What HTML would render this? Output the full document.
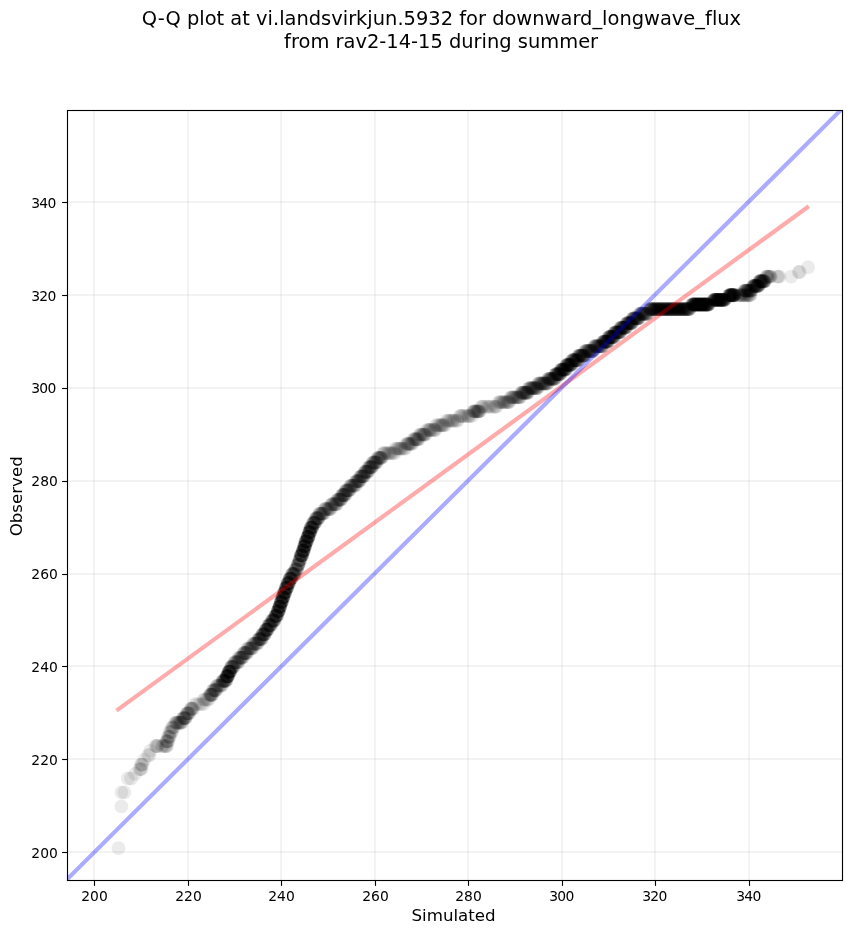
<!DOCTYPE html><html><head><meta charset="utf-8"><title>Q-Q plot</title><style>html,body{margin:0;padding:0;background:#fff}svg{display:block}text{font-family:"DejaVu Sans","Liberation Sans",sans-serif;fill:#000;font-variant-ligatures:none;font-feature-settings:"liga" 0,"clig" 0}</style></head><body>
<svg width="851" height="934" viewBox="0 0 851 934">
<rect width="851" height="934" fill="#fff"/>
<defs><clipPath id="ax"><rect x="67.5" y="110.5" width="775.0" height="770.0"/></clipPath></defs>
<g fill="#b0b0b0" fill-opacity="0.15" clip-path="url(#ax)" shape-rendering="crispEdges">
<rect x="93" y="110.5" width="2" height="770.0"/>
<rect x="67.5" y="851" width="775.0" height="2"/>
<rect x="187" y="110.5" width="2" height="770.0"/>
<rect x="67.5" y="758" width="775.0" height="2"/>
<rect x="280" y="110.5" width="2" height="770.0"/>
<rect x="67.5" y="665" width="775.0" height="2"/>
<rect x="374" y="110.5" width="2" height="770.0"/>
<rect x="67.5" y="573" width="775.0" height="2"/>
<rect x="467" y="110.5" width="2" height="770.0"/>
<rect x="67.5" y="480" width="775.0" height="2"/>
<rect x="561" y="110.5" width="2" height="770.0"/>
<rect x="67.5" y="387" width="775.0" height="2"/>
<rect x="654" y="110.5" width="2" height="770.0"/>
<rect x="67.5" y="294" width="775.0" height="2"/>
<rect x="748" y="110.5" width="2" height="770.0"/>
<rect x="67.5" y="201" width="775.0" height="2"/>
</g>
<g fill="#000" fill-opacity="0.08" clip-path="url(#ax)">
<circle cx="118.5" cy="848.2" r="6.94"/>
<circle cx="121.4" cy="806.4" r="6.94"/>
<circle cx="121.5" cy="792.4" r="6.94"/>
<circle cx="124.4" cy="792.4" r="6.94"/>
<circle cx="127.9" cy="778.5" r="6.94"/>
<circle cx="131.1" cy="778.5" r="6.94"/>
<circle cx="135.1" cy="773.8" r="6.94"/>
<circle cx="139.5" cy="769.2" r="6.94"/>
<circle cx="140.5" cy="769.2" r="6.94"/>
<circle cx="141.5" cy="769.2" r="6.94"/>
<circle cx="140.8" cy="764.6" r="6.94"/>
<circle cx="141.8" cy="764.6" r="6.94"/>
<circle cx="142.5" cy="764.6" r="6.94"/>
<circle cx="144.2" cy="759.9" r="6.94"/>
<circle cx="148.0" cy="755.3" r="6.94"/>
<circle cx="149.4" cy="755.3" r="6.94"/>
<circle cx="150.4" cy="750.6" r="6.94"/>
<circle cx="155.5" cy="746.0" r="6.94"/>
<circle cx="156.5" cy="746.0" r="6.94"/>
<circle cx="157.3" cy="746.0" r="6.94"/>
<circle cx="158.0" cy="746.0" r="6.94"/>
<circle cx="162.0" cy="746.0" r="6.94"/>
<circle cx="163.0" cy="746.0" r="6.94"/>
<circle cx="164.5" cy="746.0" r="6.94"/>
<circle cx="165.6" cy="746.0" r="6.94"/>
<circle cx="166.5" cy="746.0" r="6.94"/>
<circle cx="167.0" cy="746.0" r="6.94"/>
<circle cx="166.0" cy="741.3" r="6.94"/>
<circle cx="166.8" cy="741.3" r="6.94"/>
<circle cx="167.2" cy="741.3" r="6.94"/>
<circle cx="167.6" cy="741.3" r="6.94"/>
<circle cx="168.4" cy="741.3" r="6.94"/>
<circle cx="168.0" cy="736.7" r="6.94"/>
<circle cx="168.7" cy="736.7" r="6.94"/>
<circle cx="169.4" cy="736.7" r="6.94"/>
<circle cx="170.0" cy="736.7" r="6.94"/>
<circle cx="169.5" cy="732.0" r="6.94"/>
<circle cx="170.5" cy="732.0" r="6.94"/>
<circle cx="171.3" cy="732.0" r="6.94"/>
<circle cx="172.0" cy="732.0" r="6.94"/>
<circle cx="171.8" cy="727.4" r="6.94"/>
<circle cx="172.6" cy="727.4" r="6.94"/>
<circle cx="173.4" cy="727.4" r="6.94"/>
<circle cx="174.2" cy="727.4" r="6.94"/>
<circle cx="195.0" cy="704.1" r="6.94"/>
<circle cx="197.0" cy="704.1" r="6.94"/>
<circle cx="199.5" cy="704.1" r="6.94"/>
<circle cx="201.5" cy="704.1" r="6.94"/>
<circle cx="203.5" cy="704.1" r="6.94"/>
<circle cx="203.9" cy="699.5" r="6.94"/>
<circle cx="204.9" cy="699.5" r="6.94"/>
<circle cx="206.7" cy="699.5" r="6.94"/>
<circle cx="207.2" cy="699.5" r="6.94"/>
<circle cx="209.0" cy="699.5" r="6.94"/>
<circle cx="209.7" cy="694.8" r="6.94"/>
<circle cx="209.9" cy="694.8" r="6.94"/>
<circle cx="210.5" cy="694.8" r="6.94"/>
<circle cx="210.6" cy="694.8" r="6.94"/>
<circle cx="211.2" cy="694.8" r="6.94"/>
<circle cx="211.4" cy="694.8" r="6.94"/>
<circle cx="211.7" cy="694.8" r="6.94"/>
<circle cx="212.2" cy="694.8" r="6.94"/>
<circle cx="212.7" cy="694.8" r="6.94"/>
<circle cx="212.9" cy="690.2" r="6.94"/>
<circle cx="213.3" cy="690.2" r="6.94"/>
<circle cx="213.9" cy="690.2" r="6.94"/>
<circle cx="214.5" cy="690.2" r="6.94"/>
<circle cx="214.7" cy="690.2" r="6.94"/>
<circle cx="215.1" cy="690.2" r="6.94"/>
<circle cx="215.7" cy="690.2" r="6.94"/>
<circle cx="215.8" cy="690.2" r="6.94"/>
<circle cx="216.5" cy="690.2" r="6.94"/>
<circle cx="216.8" cy="685.6" r="6.94"/>
<circle cx="217.3" cy="685.6" r="6.94"/>
<circle cx="217.9" cy="685.6" r="6.94"/>
<circle cx="218.7" cy="685.6" r="6.94"/>
<circle cx="219.6" cy="685.6" r="6.94"/>
<circle cx="219.9" cy="685.6" r="6.94"/>
<circle cx="220.7" cy="685.6" r="6.94"/>
<circle cx="221.4" cy="685.6" r="6.94"/>
<circle cx="221.9" cy="685.6" r="6.94"/>
<circle cx="222.4" cy="680.9" r="6.94"/>
<circle cx="222.6" cy="680.9" r="6.94"/>
<circle cx="222.9" cy="680.9" r="6.94"/>
<circle cx="223.2" cy="680.9" r="6.94"/>
<circle cx="223.6" cy="680.9" r="6.94"/>
<circle cx="223.9" cy="680.9" r="6.94"/>
<circle cx="224.1" cy="680.9" r="6.94"/>
<circle cx="224.5" cy="680.9" r="6.94"/>
<circle cx="224.8" cy="680.9" r="6.94"/>
<circle cx="225.0" cy="680.9" r="6.94"/>
<circle cx="225.4" cy="680.9" r="6.94"/>
<circle cx="225.7" cy="680.9" r="6.94"/>
<circle cx="225.9" cy="680.9" r="6.94"/>
<circle cx="226.3" cy="680.9" r="6.94"/>
<circle cx="226.5" cy="676.3" r="6.94"/>
<circle cx="226.6" cy="676.3" r="6.94"/>
<circle cx="226.8" cy="676.3" r="6.94"/>
<circle cx="226.8" cy="676.3" r="6.94"/>
<circle cx="227.1" cy="676.3" r="6.94"/>
<circle cx="227.1" cy="676.3" r="6.94"/>
<circle cx="227.2" cy="676.3" r="6.94"/>
<circle cx="227.4" cy="676.3" r="6.94"/>
<circle cx="227.5" cy="676.3" r="6.94"/>
<circle cx="227.7" cy="676.3" r="6.94"/>
<circle cx="227.7" cy="676.3" r="6.94"/>
<circle cx="227.9" cy="676.3" r="6.94"/>
<circle cx="228.1" cy="676.3" r="6.94"/>
<circle cx="228.2" cy="676.3" r="6.94"/>
<circle cx="228.4" cy="671.6" r="6.94"/>
<circle cx="228.5" cy="671.6" r="6.94"/>
<circle cx="228.7" cy="671.6" r="6.94"/>
<circle cx="228.9" cy="671.6" r="6.94"/>
<circle cx="229.0" cy="671.6" r="6.94"/>
<circle cx="229.2" cy="671.6" r="6.94"/>
<circle cx="229.4" cy="671.6" r="6.94"/>
<circle cx="229.6" cy="671.6" r="6.94"/>
<circle cx="229.7" cy="671.6" r="6.94"/>
<circle cx="229.9" cy="671.6" r="6.94"/>
<circle cx="229.9" cy="671.6" r="6.94"/>
<circle cx="230.2" cy="671.6" r="6.94"/>
<circle cx="230.4" cy="671.6" r="6.94"/>
<circle cx="230.6" cy="671.6" r="6.94"/>
<circle cx="230.9" cy="667.0" r="6.94"/>
<circle cx="231.0" cy="667.0" r="6.94"/>
<circle cx="231.4" cy="667.0" r="6.94"/>
<circle cx="231.8" cy="667.0" r="6.94"/>
<circle cx="232.0" cy="667.0" r="6.94"/>
<circle cx="232.5" cy="667.0" r="6.94"/>
<circle cx="232.7" cy="667.0" r="6.94"/>
<circle cx="233.0" cy="667.0" r="6.94"/>
<circle cx="233.3" cy="667.0" r="6.94"/>
<circle cx="233.9" cy="667.0" r="6.94"/>
<circle cx="234.1" cy="662.3" r="6.94"/>
<circle cx="234.6" cy="662.3" r="6.94"/>
<circle cx="235.1" cy="662.3" r="6.94"/>
<circle cx="235.8" cy="662.3" r="6.94"/>
<circle cx="235.9" cy="662.3" r="6.94"/>
<circle cx="236.6" cy="662.3" r="6.94"/>
<circle cx="237.1" cy="662.3" r="6.94"/>
<circle cx="237.7" cy="662.3" r="6.94"/>
<circle cx="238.1" cy="662.3" r="6.94"/>
<circle cx="238.6" cy="662.3" r="6.94"/>
<circle cx="238.8" cy="657.7" r="6.94"/>
<circle cx="239.4" cy="657.7" r="6.94"/>
<circle cx="239.8" cy="657.7" r="6.94"/>
<circle cx="240.5" cy="657.7" r="6.94"/>
<circle cx="241.0" cy="657.7" r="6.94"/>
<circle cx="241.1" cy="657.7" r="6.94"/>
<circle cx="241.5" cy="657.7" r="6.94"/>
<circle cx="242.0" cy="657.7" r="6.94"/>
<circle cx="242.5" cy="657.7" r="6.94"/>
<circle cx="243.1" cy="657.7" r="6.94"/>
<circle cx="243.5" cy="653.0" r="6.94"/>
<circle cx="243.8" cy="653.0" r="6.94"/>
<circle cx="244.1" cy="653.0" r="6.94"/>
<circle cx="244.7" cy="653.0" r="6.94"/>
<circle cx="245.1" cy="653.0" r="6.94"/>
<circle cx="245.6" cy="653.0" r="6.94"/>
<circle cx="246.1" cy="653.0" r="6.94"/>
<circle cx="246.4" cy="653.0" r="6.94"/>
<circle cx="246.7" cy="653.0" r="6.94"/>
<circle cx="247.2" cy="653.0" r="6.94"/>
<circle cx="247.7" cy="648.4" r="6.94"/>
<circle cx="247.9" cy="648.4" r="6.94"/>
<circle cx="249.0" cy="648.4" r="6.94"/>
<circle cx="249.4" cy="648.4" r="6.94"/>
<circle cx="250.1" cy="648.4" r="6.94"/>
<circle cx="250.6" cy="648.4" r="6.94"/>
<circle cx="250.9" cy="648.4" r="6.94"/>
<circle cx="251.5" cy="648.4" r="6.94"/>
<circle cx="251.8" cy="648.4" r="6.94"/>
<circle cx="252.7" cy="648.4" r="6.94"/>
<circle cx="252.9" cy="643.7" r="6.94"/>
<circle cx="253.5" cy="643.7" r="6.94"/>
<circle cx="254.1" cy="643.7" r="6.94"/>
<circle cx="254.6" cy="643.7" r="6.94"/>
<circle cx="255.2" cy="643.7" r="6.94"/>
<circle cx="255.6" cy="643.7" r="6.94"/>
<circle cx="256.1" cy="643.7" r="6.94"/>
<circle cx="256.7" cy="643.7" r="6.94"/>
<circle cx="257.2" cy="643.7" r="6.94"/>
<circle cx="257.9" cy="643.7" r="6.94"/>
<circle cx="258.2" cy="639.1" r="6.94"/>
<circle cx="258.8" cy="639.1" r="6.94"/>
<circle cx="259.0" cy="639.1" r="6.94"/>
<circle cx="259.2" cy="639.1" r="6.94"/>
<circle cx="259.5" cy="639.1" r="6.94"/>
<circle cx="259.9" cy="639.1" r="6.94"/>
<circle cx="260.2" cy="639.1" r="6.94"/>
<circle cx="260.4" cy="639.1" r="6.94"/>
<circle cx="261.0" cy="639.1" r="6.94"/>
<circle cx="261.3" cy="639.1" r="6.94"/>
<circle cx="261.5" cy="639.1" r="6.94"/>
<circle cx="261.8" cy="639.1" r="6.94"/>
<circle cx="262.0" cy="634.4" r="6.94"/>
<circle cx="262.3" cy="634.4" r="6.94"/>
<circle cx="262.6" cy="634.4" r="6.94"/>
<circle cx="262.8" cy="634.4" r="6.94"/>
<circle cx="263.3" cy="634.4" r="6.94"/>
<circle cx="263.4" cy="634.4" r="6.94"/>
<circle cx="263.6" cy="634.4" r="6.94"/>
<circle cx="264.1" cy="634.4" r="6.94"/>
<circle cx="264.3" cy="634.4" r="6.94"/>
<circle cx="264.5" cy="634.4" r="6.94"/>
<circle cx="264.8" cy="634.4" r="6.94"/>
<circle cx="265.0" cy="634.4" r="6.94"/>
<circle cx="265.4" cy="629.8" r="6.94"/>
<circle cx="265.7" cy="629.8" r="6.94"/>
<circle cx="265.9" cy="629.8" r="6.94"/>
<circle cx="266.1" cy="629.8" r="6.94"/>
<circle cx="266.3" cy="629.8" r="6.94"/>
<circle cx="266.5" cy="629.8" r="6.94"/>
<circle cx="266.7" cy="629.8" r="6.94"/>
<circle cx="267.1" cy="629.8" r="6.94"/>
<circle cx="267.3" cy="629.8" r="6.94"/>
<circle cx="267.6" cy="629.8" r="6.94"/>
<circle cx="267.7" cy="629.8" r="6.94"/>
<circle cx="267.9" cy="629.8" r="6.94"/>
<circle cx="268.3" cy="625.1" r="6.94"/>
<circle cx="268.7" cy="625.1" r="6.94"/>
<circle cx="268.9" cy="625.1" r="6.94"/>
<circle cx="269.2" cy="625.1" r="6.94"/>
<circle cx="269.5" cy="625.1" r="6.94"/>
<circle cx="269.8" cy="625.1" r="6.94"/>
<circle cx="269.9" cy="625.1" r="6.94"/>
<circle cx="270.3" cy="625.1" r="6.94"/>
<circle cx="270.5" cy="625.1" r="6.94"/>
<circle cx="270.7" cy="625.1" r="6.94"/>
<circle cx="271.0" cy="625.1" r="6.94"/>
<circle cx="271.4" cy="625.1" r="6.94"/>
<circle cx="271.7" cy="620.5" r="6.94"/>
<circle cx="272.1" cy="620.5" r="6.94"/>
<circle cx="272.4" cy="620.5" r="6.94"/>
<circle cx="272.5" cy="620.5" r="6.94"/>
<circle cx="273.0" cy="620.5" r="6.94"/>
<circle cx="273.2" cy="620.5" r="6.94"/>
<circle cx="273.5" cy="620.5" r="6.94"/>
<circle cx="273.6" cy="620.5" r="6.94"/>
<circle cx="273.9" cy="620.5" r="6.94"/>
<circle cx="274.1" cy="620.5" r="6.94"/>
<circle cx="274.4" cy="620.5" r="6.94"/>
<circle cx="274.7" cy="620.5" r="6.94"/>
<circle cx="275.0" cy="615.9" r="6.94"/>
<circle cx="275.3" cy="615.9" r="6.94"/>
<circle cx="275.5" cy="615.9" r="6.94"/>
<circle cx="275.6" cy="615.9" r="6.94"/>
<circle cx="275.8" cy="615.9" r="6.94"/>
<circle cx="276.0" cy="615.9" r="6.94"/>
<circle cx="276.1" cy="615.9" r="6.94"/>
<circle cx="276.4" cy="615.9" r="6.94"/>
<circle cx="276.6" cy="615.9" r="6.94"/>
<circle cx="276.8" cy="615.9" r="6.94"/>
<circle cx="277.0" cy="615.9" r="6.94"/>
<circle cx="277.1" cy="615.9" r="6.94"/>
<circle cx="277.3" cy="611.2" r="6.94"/>
<circle cx="277.5" cy="611.2" r="6.94"/>
<circle cx="277.6" cy="611.2" r="6.94"/>
<circle cx="277.8" cy="611.2" r="6.94"/>
<circle cx="278.0" cy="611.2" r="6.94"/>
<circle cx="278.1" cy="611.2" r="6.94"/>
<circle cx="278.2" cy="611.2" r="6.94"/>
<circle cx="278.5" cy="611.2" r="6.94"/>
<circle cx="278.6" cy="611.2" r="6.94"/>
<circle cx="278.7" cy="611.2" r="6.94"/>
<circle cx="278.8" cy="611.2" r="6.94"/>
<circle cx="279.0" cy="611.2" r="6.94"/>
<circle cx="279.2" cy="606.6" r="6.94"/>
<circle cx="279.3" cy="606.6" r="6.94"/>
<circle cx="279.4" cy="606.6" r="6.94"/>
<circle cx="279.5" cy="606.6" r="6.94"/>
<circle cx="279.7" cy="606.6" r="6.94"/>
<circle cx="279.8" cy="606.6" r="6.94"/>
<circle cx="279.8" cy="606.6" r="6.94"/>
<circle cx="280.0" cy="606.6" r="6.94"/>
<circle cx="280.0" cy="606.6" r="6.94"/>
<circle cx="280.2" cy="606.6" r="6.94"/>
<circle cx="280.4" cy="606.6" r="6.94"/>
<circle cx="280.5" cy="606.6" r="6.94"/>
<circle cx="280.6" cy="601.9" r="6.94"/>
<circle cx="280.8" cy="601.9" r="6.94"/>
<circle cx="280.8" cy="601.9" r="6.94"/>
<circle cx="281.0" cy="601.9" r="6.94"/>
<circle cx="281.2" cy="601.9" r="6.94"/>
<circle cx="281.2" cy="601.9" r="6.94"/>
<circle cx="281.4" cy="601.9" r="6.94"/>
<circle cx="281.5" cy="601.9" r="6.94"/>
<circle cx="281.6" cy="601.9" r="6.94"/>
<circle cx="281.8" cy="601.9" r="6.94"/>
<circle cx="281.9" cy="601.9" r="6.94"/>
<circle cx="282.1" cy="601.9" r="6.94"/>
<circle cx="282.2" cy="597.3" r="6.94"/>
<circle cx="282.4" cy="597.3" r="6.94"/>
<circle cx="282.5" cy="597.3" r="6.94"/>
<circle cx="282.6" cy="597.3" r="6.94"/>
<circle cx="282.8" cy="597.3" r="6.94"/>
<circle cx="283.0" cy="597.3" r="6.94"/>
<circle cx="283.0" cy="597.3" r="6.94"/>
<circle cx="283.2" cy="597.3" r="6.94"/>
<circle cx="283.3" cy="597.3" r="6.94"/>
<circle cx="283.5" cy="597.3" r="6.94"/>
<circle cx="283.6" cy="597.3" r="6.94"/>
<circle cx="283.7" cy="597.3" r="6.94"/>
<circle cx="283.9" cy="592.6" r="6.94"/>
<circle cx="284.0" cy="592.6" r="6.94"/>
<circle cx="284.1" cy="592.6" r="6.94"/>
<circle cx="284.3" cy="592.6" r="6.94"/>
<circle cx="284.4" cy="592.6" r="6.94"/>
<circle cx="284.6" cy="592.6" r="6.94"/>
<circle cx="284.7" cy="592.6" r="6.94"/>
<circle cx="284.8" cy="592.6" r="6.94"/>
<circle cx="284.9" cy="592.6" r="6.94"/>
<circle cx="285.1" cy="592.6" r="6.94"/>
<circle cx="285.3" cy="592.6" r="6.94"/>
<circle cx="285.4" cy="592.6" r="6.94"/>
<circle cx="285.5" cy="588.0" r="6.94"/>
<circle cx="285.7" cy="588.0" r="6.94"/>
<circle cx="285.8" cy="588.0" r="6.94"/>
<circle cx="286.0" cy="588.0" r="6.94"/>
<circle cx="286.2" cy="588.0" r="6.94"/>
<circle cx="286.3" cy="588.0" r="6.94"/>
<circle cx="286.5" cy="588.0" r="6.94"/>
<circle cx="286.7" cy="588.0" r="6.94"/>
<circle cx="286.9" cy="588.0" r="6.94"/>
<circle cx="286.9" cy="588.0" r="6.94"/>
<circle cx="287.1" cy="588.0" r="6.94"/>
<circle cx="287.3" cy="588.0" r="6.94"/>
<circle cx="287.4" cy="583.3" r="6.94"/>
<circle cx="287.6" cy="583.3" r="6.94"/>
<circle cx="287.7" cy="583.3" r="6.94"/>
<circle cx="287.9" cy="583.3" r="6.94"/>
<circle cx="288.1" cy="583.3" r="6.94"/>
<circle cx="288.3" cy="583.3" r="6.94"/>
<circle cx="288.4" cy="583.3" r="6.94"/>
<circle cx="288.6" cy="583.3" r="6.94"/>
<circle cx="288.8" cy="583.3" r="6.94"/>
<circle cx="288.8" cy="583.3" r="6.94"/>
<circle cx="289.0" cy="583.3" r="6.94"/>
<circle cx="289.2" cy="583.3" r="6.94"/>
<circle cx="289.4" cy="578.7" r="6.94"/>
<circle cx="289.5" cy="578.7" r="6.94"/>
<circle cx="289.7" cy="578.7" r="6.94"/>
<circle cx="290.0" cy="578.7" r="6.94"/>
<circle cx="290.1" cy="578.7" r="6.94"/>
<circle cx="290.3" cy="578.7" r="6.94"/>
<circle cx="290.5" cy="578.7" r="6.94"/>
<circle cx="290.8" cy="578.7" r="6.94"/>
<circle cx="291.0" cy="578.7" r="6.94"/>
<circle cx="291.3" cy="578.7" r="6.94"/>
<circle cx="291.3" cy="578.7" r="6.94"/>
<circle cx="291.6" cy="578.7" r="6.94"/>
<circle cx="291.9" cy="574.0" r="6.94"/>
<circle cx="292.0" cy="574.0" r="6.94"/>
<circle cx="292.5" cy="574.0" r="6.94"/>
<circle cx="292.8" cy="574.0" r="6.94"/>
<circle cx="292.9" cy="574.0" r="6.94"/>
<circle cx="293.3" cy="574.0" r="6.94"/>
<circle cx="293.5" cy="574.0" r="6.94"/>
<circle cx="293.8" cy="574.0" r="6.94"/>
<circle cx="294.2" cy="574.0" r="6.94"/>
<circle cx="294.4" cy="574.0" r="6.94"/>
<circle cx="294.5" cy="574.0" r="6.94"/>
<circle cx="294.8" cy="574.0" r="6.94"/>
<circle cx="295.2" cy="569.4" r="6.94"/>
<circle cx="295.5" cy="569.4" r="6.94"/>
<circle cx="295.8" cy="569.4" r="6.94"/>
<circle cx="296.2" cy="569.4" r="6.94"/>
<circle cx="296.7" cy="569.4" r="6.94"/>
<circle cx="296.8" cy="569.4" r="6.94"/>
<circle cx="297.3" cy="569.4" r="6.94"/>
<circle cx="297.6" cy="564.7" r="6.94"/>
<circle cx="297.7" cy="564.7" r="6.94"/>
<circle cx="298.0" cy="564.7" r="6.94"/>
<circle cx="298.2" cy="564.7" r="6.94"/>
<circle cx="298.4" cy="564.7" r="6.94"/>
<circle cx="298.5" cy="564.7" r="6.94"/>
<circle cx="298.9" cy="564.7" r="6.94"/>
<circle cx="299.1" cy="560.1" r="6.94"/>
<circle cx="299.4" cy="560.1" r="6.94"/>
<circle cx="299.4" cy="560.1" r="6.94"/>
<circle cx="299.7" cy="560.1" r="6.94"/>
<circle cx="299.9" cy="560.1" r="6.94"/>
<circle cx="300.3" cy="560.1" r="6.94"/>
<circle cx="300.4" cy="560.1" r="6.94"/>
<circle cx="300.6" cy="555.4" r="6.94"/>
<circle cx="300.8" cy="555.4" r="6.94"/>
<circle cx="301.0" cy="555.4" r="6.94"/>
<circle cx="301.2" cy="555.4" r="6.94"/>
<circle cx="301.2" cy="555.4" r="6.94"/>
<circle cx="301.4" cy="555.4" r="6.94"/>
<circle cx="301.6" cy="555.4" r="6.94"/>
<circle cx="301.7" cy="555.4" r="6.94"/>
<circle cx="301.9" cy="555.4" r="6.94"/>
<circle cx="302.0" cy="555.4" r="6.94"/>
<circle cx="302.1" cy="555.4" r="6.94"/>
<circle cx="302.4" cy="555.4" r="6.94"/>
<circle cx="302.5" cy="550.8" r="6.94"/>
<circle cx="302.6" cy="550.8" r="6.94"/>
<circle cx="302.8" cy="550.8" r="6.94"/>
<circle cx="302.9" cy="550.8" r="6.94"/>
<circle cx="303.1" cy="550.8" r="6.94"/>
<circle cx="303.1" cy="550.8" r="6.94"/>
<circle cx="303.3" cy="550.8" r="6.94"/>
<circle cx="303.4" cy="550.8" r="6.94"/>
<circle cx="303.6" cy="550.8" r="6.94"/>
<circle cx="303.7" cy="550.8" r="6.94"/>
<circle cx="303.8" cy="550.8" r="6.94"/>
<circle cx="303.9" cy="550.8" r="6.94"/>
<circle cx="304.1" cy="546.1" r="6.94"/>
<circle cx="304.1" cy="546.1" r="6.94"/>
<circle cx="304.2" cy="546.1" r="6.94"/>
<circle cx="304.4" cy="546.1" r="6.94"/>
<circle cx="304.5" cy="546.1" r="6.94"/>
<circle cx="304.6" cy="546.1" r="6.94"/>
<circle cx="304.7" cy="546.1" r="6.94"/>
<circle cx="304.8" cy="546.1" r="6.94"/>
<circle cx="305.0" cy="546.1" r="6.94"/>
<circle cx="305.1" cy="546.1" r="6.94"/>
<circle cx="305.2" cy="546.1" r="6.94"/>
<circle cx="305.4" cy="546.1" r="6.94"/>
<circle cx="305.4" cy="541.5" r="6.94"/>
<circle cx="305.6" cy="541.5" r="6.94"/>
<circle cx="305.7" cy="541.5" r="6.94"/>
<circle cx="305.9" cy="541.5" r="6.94"/>
<circle cx="306.0" cy="541.5" r="6.94"/>
<circle cx="306.2" cy="541.5" r="6.94"/>
<circle cx="306.3" cy="541.5" r="6.94"/>
<circle cx="306.5" cy="541.5" r="6.94"/>
<circle cx="306.6" cy="541.5" r="6.94"/>
<circle cx="306.7" cy="541.5" r="6.94"/>
<circle cx="306.9" cy="541.5" r="6.94"/>
<circle cx="307.1" cy="541.5" r="6.94"/>
<circle cx="307.2" cy="536.9" r="6.94"/>
<circle cx="307.4" cy="536.9" r="6.94"/>
<circle cx="307.5" cy="536.9" r="6.94"/>
<circle cx="307.7" cy="536.9" r="6.94"/>
<circle cx="307.9" cy="536.9" r="6.94"/>
<circle cx="307.9" cy="536.9" r="6.94"/>
<circle cx="308.1" cy="536.9" r="6.94"/>
<circle cx="308.3" cy="536.9" r="6.94"/>
<circle cx="308.5" cy="536.9" r="6.94"/>
<circle cx="308.5" cy="536.9" r="6.94"/>
<circle cx="308.7" cy="536.9" r="6.94"/>
<circle cx="308.9" cy="536.9" r="6.94"/>
<circle cx="309.0" cy="532.2" r="6.94"/>
<circle cx="309.1" cy="532.2" r="6.94"/>
<circle cx="309.2" cy="532.2" r="6.94"/>
<circle cx="309.3" cy="532.2" r="6.94"/>
<circle cx="309.4" cy="532.2" r="6.94"/>
<circle cx="309.5" cy="532.2" r="6.94"/>
<circle cx="309.7" cy="532.2" r="6.94"/>
<circle cx="309.8" cy="532.2" r="6.94"/>
<circle cx="309.9" cy="532.2" r="6.94"/>
<circle cx="310.0" cy="532.2" r="6.94"/>
<circle cx="310.3" cy="532.2" r="6.94"/>
<circle cx="310.4" cy="532.2" r="6.94"/>
<circle cx="310.5" cy="527.6" r="6.94"/>
<circle cx="310.6" cy="527.6" r="6.94"/>
<circle cx="310.8" cy="527.6" r="6.94"/>
<circle cx="311.0" cy="527.6" r="6.94"/>
<circle cx="311.2" cy="527.6" r="6.94"/>
<circle cx="311.4" cy="527.6" r="6.94"/>
<circle cx="311.6" cy="527.6" r="6.94"/>
<circle cx="311.8" cy="527.6" r="6.94"/>
<circle cx="312.1" cy="527.6" r="6.94"/>
<circle cx="312.3" cy="527.6" r="6.94"/>
<circle cx="312.4" cy="527.6" r="6.94"/>
<circle cx="312.5" cy="527.6" r="6.94"/>
<circle cx="312.9" cy="522.9" r="6.94"/>
<circle cx="313.0" cy="522.9" r="6.94"/>
<circle cx="313.3" cy="522.9" r="6.94"/>
<circle cx="313.5" cy="522.9" r="6.94"/>
<circle cx="313.8" cy="522.9" r="6.94"/>
<circle cx="314.1" cy="522.9" r="6.94"/>
<circle cx="314.4" cy="522.9" r="6.94"/>
<circle cx="314.6" cy="522.9" r="6.94"/>
<circle cx="314.9" cy="522.9" r="6.94"/>
<circle cx="315.1" cy="522.9" r="6.94"/>
<circle cx="315.4" cy="522.9" r="6.94"/>
<circle cx="315.6" cy="518.3" r="6.94"/>
<circle cx="316.0" cy="518.3" r="6.94"/>
<circle cx="316.2" cy="518.3" r="6.94"/>
<circle cx="316.5" cy="518.3" r="6.94"/>
<circle cx="316.9" cy="518.3" r="6.94"/>
<circle cx="317.2" cy="518.3" r="6.94"/>
<circle cx="317.6" cy="518.3" r="6.94"/>
<circle cx="317.9" cy="518.3" r="6.94"/>
<circle cx="318.2" cy="518.3" r="6.94"/>
<circle cx="318.5" cy="518.3" r="6.94"/>
<circle cx="318.8" cy="518.3" r="6.94"/>
<circle cx="319.3" cy="513.6" r="6.94"/>
<circle cx="319.6" cy="513.6" r="6.94"/>
<circle cx="320.0" cy="513.6" r="6.94"/>
<circle cx="320.8" cy="513.6" r="6.94"/>
<circle cx="320.9" cy="513.6" r="6.94"/>
<circle cx="321.6" cy="513.6" r="6.94"/>
<circle cx="322.1" cy="513.6" r="6.94"/>
<circle cx="322.3" cy="513.6" r="6.94"/>
<circle cx="323.1" cy="513.6" r="6.94"/>
<circle cx="323.6" cy="513.6" r="6.94"/>
<circle cx="324.0" cy="513.6" r="6.94"/>
<circle cx="324.6" cy="509.0" r="6.94"/>
<circle cx="325.3" cy="509.0" r="6.94"/>
<circle cx="325.5" cy="509.0" r="6.94"/>
<circle cx="326.3" cy="509.0" r="6.94"/>
<circle cx="326.9" cy="509.0" r="6.94"/>
<circle cx="327.8" cy="509.0" r="6.94"/>
<circle cx="328.4" cy="509.0" r="6.94"/>
<circle cx="329.0" cy="509.0" r="6.94"/>
<circle cx="329.5" cy="509.0" r="6.94"/>
<circle cx="330.3" cy="509.0" r="6.94"/>
<circle cx="330.7" cy="509.0" r="6.94"/>
<circle cx="331.3" cy="504.3" r="6.94"/>
<circle cx="331.6" cy="504.3" r="6.94"/>
<circle cx="332.1" cy="504.3" r="6.94"/>
<circle cx="332.7" cy="504.3" r="6.94"/>
<circle cx="333.3" cy="504.3" r="6.94"/>
<circle cx="333.8" cy="504.3" r="6.94"/>
<circle cx="334.7" cy="504.3" r="6.94"/>
<circle cx="335.1" cy="504.3" r="6.94"/>
<circle cx="335.7" cy="504.3" r="6.94"/>
<circle cx="336.2" cy="504.3" r="6.94"/>
<circle cx="336.8" cy="504.3" r="6.94"/>
<circle cx="337.2" cy="499.7" r="6.94"/>
<circle cx="337.4" cy="499.7" r="6.94"/>
<circle cx="338.2" cy="499.7" r="6.94"/>
<circle cx="338.6" cy="499.7" r="6.94"/>
<circle cx="338.9" cy="499.7" r="6.94"/>
<circle cx="339.4" cy="499.7" r="6.94"/>
<circle cx="339.9" cy="499.7" r="6.94"/>
<circle cx="340.1" cy="499.7" r="6.94"/>
<circle cx="340.8" cy="499.7" r="6.94"/>
<circle cx="341.0" cy="499.7" r="6.94"/>
<circle cx="341.3" cy="499.7" r="6.94"/>
<circle cx="341.8" cy="495.0" r="6.94"/>
<circle cx="342.3" cy="495.0" r="6.94"/>
<circle cx="342.5" cy="495.0" r="6.94"/>
<circle cx="343.0" cy="495.0" r="6.94"/>
<circle cx="343.4" cy="495.0" r="6.94"/>
<circle cx="343.6" cy="495.0" r="6.94"/>
<circle cx="343.9" cy="495.0" r="6.94"/>
<circle cx="344.3" cy="495.0" r="6.94"/>
<circle cx="344.7" cy="495.0" r="6.94"/>
<circle cx="345.1" cy="495.0" r="6.94"/>
<circle cx="345.4" cy="495.0" r="6.94"/>
<circle cx="345.8" cy="490.4" r="6.94"/>
<circle cx="345.9" cy="490.4" r="6.94"/>
<circle cx="346.4" cy="490.4" r="6.94"/>
<circle cx="346.8" cy="490.4" r="6.94"/>
<circle cx="347.4" cy="490.4" r="6.94"/>
<circle cx="347.6" cy="490.4" r="6.94"/>
<circle cx="348.2" cy="490.4" r="6.94"/>
<circle cx="348.3" cy="490.4" r="6.94"/>
<circle cx="348.8" cy="490.4" r="6.94"/>
<circle cx="349.2" cy="490.4" r="6.94"/>
<circle cx="349.8" cy="490.4" r="6.94"/>
<circle cx="350.3" cy="485.7" r="6.94"/>
<circle cx="350.8" cy="485.7" r="6.94"/>
<circle cx="351.1" cy="485.7" r="6.94"/>
<circle cx="351.8" cy="485.7" r="6.94"/>
<circle cx="352.2" cy="485.7" r="6.94"/>
<circle cx="352.8" cy="485.7" r="6.94"/>
<circle cx="353.1" cy="485.7" r="6.94"/>
<circle cx="354.0" cy="485.7" r="6.94"/>
<circle cx="354.2" cy="485.7" r="6.94"/>
<circle cx="355.1" cy="485.7" r="6.94"/>
<circle cx="355.6" cy="485.7" r="6.94"/>
<circle cx="355.6" cy="481.1" r="6.94"/>
<circle cx="356.2" cy="481.1" r="6.94"/>
<circle cx="356.7" cy="481.1" r="6.94"/>
<circle cx="357.2" cy="481.1" r="6.94"/>
<circle cx="357.4" cy="481.1" r="6.94"/>
<circle cx="357.7" cy="481.1" r="6.94"/>
<circle cx="358.1" cy="481.1" r="6.94"/>
<circle cx="358.8" cy="481.1" r="6.94"/>
<circle cx="358.9" cy="481.1" r="6.94"/>
<circle cx="359.5" cy="481.1" r="6.94"/>
<circle cx="359.7" cy="481.1" r="6.94"/>
<circle cx="360.3" cy="476.4" r="6.94"/>
<circle cx="360.8" cy="476.4" r="6.94"/>
<circle cx="360.9" cy="476.4" r="6.94"/>
<circle cx="361.5" cy="476.4" r="6.94"/>
<circle cx="361.8" cy="476.4" r="6.94"/>
<circle cx="362.3" cy="476.4" r="6.94"/>
<circle cx="362.6" cy="476.4" r="6.94"/>
<circle cx="362.8" cy="476.4" r="6.94"/>
<circle cx="363.5" cy="476.4" r="6.94"/>
<circle cx="363.7" cy="476.4" r="6.94"/>
<circle cx="363.9" cy="476.4" r="6.94"/>
<circle cx="364.3" cy="471.8" r="6.94"/>
<circle cx="364.9" cy="471.8" r="6.94"/>
<circle cx="365.2" cy="471.8" r="6.94"/>
<circle cx="365.6" cy="471.8" r="6.94"/>
<circle cx="365.9" cy="471.8" r="6.94"/>
<circle cx="366.3" cy="471.8" r="6.94"/>
<circle cx="366.7" cy="471.8" r="6.94"/>
<circle cx="367.3" cy="471.8" r="6.94"/>
<circle cx="367.4" cy="471.8" r="6.94"/>
<circle cx="368.0" cy="471.8" r="6.94"/>
<circle cx="368.4" cy="471.8" r="6.94"/>
<circle cx="368.5" cy="467.1" r="6.94"/>
<circle cx="369.2" cy="467.1" r="6.94"/>
<circle cx="369.5" cy="467.1" r="6.94"/>
<circle cx="369.9" cy="467.1" r="6.94"/>
<circle cx="370.1" cy="467.1" r="6.94"/>
<circle cx="370.5" cy="467.1" r="6.94"/>
<circle cx="370.8" cy="467.1" r="6.94"/>
<circle cx="371.4" cy="467.1" r="6.94"/>
<circle cx="371.6" cy="467.1" r="6.94"/>
<circle cx="371.9" cy="467.1" r="6.94"/>
<circle cx="372.3" cy="467.1" r="6.94"/>
<circle cx="372.6" cy="462.5" r="6.94"/>
<circle cx="372.9" cy="462.5" r="6.94"/>
<circle cx="373.4" cy="462.5" r="6.94"/>
<circle cx="374.1" cy="462.5" r="6.94"/>
<circle cx="374.3" cy="462.5" r="6.94"/>
<circle cx="374.9" cy="462.5" r="6.94"/>
<circle cx="375.1" cy="462.5" r="6.94"/>
<circle cx="375.5" cy="462.5" r="6.94"/>
<circle cx="376.0" cy="462.5" r="6.94"/>
<circle cx="376.3" cy="462.5" r="6.94"/>
<circle cx="376.7" cy="462.5" r="6.94"/>
<circle cx="377.5" cy="457.9" r="6.94"/>
<circle cx="377.9" cy="457.9" r="6.94"/>
<circle cx="378.3" cy="457.9" r="6.94"/>
<circle cx="378.7" cy="457.9" r="6.94"/>
<circle cx="379.3" cy="457.9" r="6.94"/>
<circle cx="379.8" cy="457.9" r="6.94"/>
<circle cx="380.1" cy="457.9" r="6.94"/>
<circle cx="380.6" cy="457.9" r="6.94"/>
<circle cx="380.8" cy="457.9" r="6.94"/>
<circle cx="381.6" cy="457.9" r="6.94"/>
<circle cx="381.9" cy="457.9" r="6.94"/>
<circle cx="383.0" cy="453.2" r="6.94"/>
<circle cx="384.1" cy="453.2" r="6.94"/>
<circle cx="384.8" cy="453.2" r="6.94"/>
<circle cx="385.7" cy="453.2" r="6.94"/>
<circle cx="387.9" cy="453.2" r="6.94"/>
<circle cx="388.1" cy="453.2" r="6.94"/>
<circle cx="389.7" cy="453.2" r="6.94"/>
<circle cx="390.7" cy="453.2" r="6.94"/>
<circle cx="391.8" cy="453.2" r="6.94"/>
<circle cx="393.5" cy="453.2" r="6.94"/>
<circle cx="394.9" cy="453.2" r="6.94"/>
<circle cx="395.3" cy="448.6" r="6.94"/>
<circle cx="396.8" cy="448.6" r="6.94"/>
<circle cx="397.5" cy="448.6" r="6.94"/>
<circle cx="398.8" cy="448.6" r="6.94"/>
<circle cx="399.7" cy="448.6" r="6.94"/>
<circle cx="400.5" cy="448.6" r="6.94"/>
<circle cx="401.6" cy="448.6" r="6.94"/>
<circle cx="402.7" cy="448.6" r="6.94"/>
<circle cx="404.6" cy="448.6" r="6.94"/>
<circle cx="405.2" cy="448.6" r="6.94"/>
<circle cx="405.9" cy="443.9" r="6.94"/>
<circle cx="407.1" cy="443.9" r="6.94"/>
<circle cx="407.9" cy="443.9" r="6.94"/>
<circle cx="408.2" cy="443.9" r="6.94"/>
<circle cx="408.7" cy="443.9" r="6.94"/>
<circle cx="409.5" cy="443.9" r="6.94"/>
<circle cx="410.1" cy="443.9" r="6.94"/>
<circle cx="411.0" cy="443.9" r="6.94"/>
<circle cx="411.6" cy="443.9" r="6.94"/>
<circle cx="412.4" cy="443.9" r="6.94"/>
<circle cx="413.1" cy="439.3" r="6.94"/>
<circle cx="413.9" cy="439.3" r="6.94"/>
<circle cx="414.8" cy="439.3" r="6.94"/>
<circle cx="415.3" cy="439.3" r="6.94"/>
<circle cx="415.7" cy="439.3" r="6.94"/>
<circle cx="416.4" cy="439.3" r="6.94"/>
<circle cx="417.1" cy="439.3" r="6.94"/>
<circle cx="417.6" cy="439.3" r="6.94"/>
<circle cx="418.2" cy="439.3" r="6.94"/>
<circle cx="418.7" cy="439.3" r="6.94"/>
<circle cx="419.5" cy="434.6" r="6.94"/>
<circle cx="420.7" cy="434.6" r="6.94"/>
<circle cx="420.8" cy="434.6" r="6.94"/>
<circle cx="421.7" cy="434.6" r="6.94"/>
<circle cx="422.5" cy="434.6" r="6.94"/>
<circle cx="423.3" cy="434.6" r="6.94"/>
<circle cx="423.6" cy="434.6" r="6.94"/>
<circle cx="424.3" cy="434.6" r="6.94"/>
<circle cx="425.0" cy="434.6" r="6.94"/>
<circle cx="425.7" cy="434.6" r="6.94"/>
<circle cx="426.6" cy="430.0" r="6.94"/>
<circle cx="428.1" cy="430.0" r="6.94"/>
<circle cx="428.9" cy="430.0" r="6.94"/>
<circle cx="429.9" cy="430.0" r="6.94"/>
<circle cx="430.1" cy="430.0" r="6.94"/>
<circle cx="431.0" cy="430.0" r="6.94"/>
<circle cx="432.7" cy="430.0" r="6.94"/>
<circle cx="433.8" cy="430.0" r="6.94"/>
<circle cx="434.4" cy="430.0" r="6.94"/>
<circle cx="435.5" cy="430.0" r="6.94"/>
<circle cx="435.9" cy="425.3" r="6.94"/>
<circle cx="437.2" cy="425.3" r="6.94"/>
<circle cx="438.7" cy="425.3" r="6.94"/>
<circle cx="439.6" cy="425.3" r="6.94"/>
<circle cx="440.6" cy="425.3" r="6.94"/>
<circle cx="441.7" cy="425.3" r="6.94"/>
<circle cx="442.0" cy="425.3" r="6.94"/>
<circle cx="442.8" cy="425.3" r="6.94"/>
<circle cx="443.8" cy="425.3" r="6.94"/>
<circle cx="445.1" cy="425.3" r="6.94"/>
<circle cx="446.5" cy="420.7" r="6.94"/>
<circle cx="448.1" cy="420.7" r="6.94"/>
<circle cx="449.1" cy="420.7" r="6.94"/>
<circle cx="450.3" cy="420.7" r="6.94"/>
<circle cx="451.7" cy="420.7" r="6.94"/>
<circle cx="452.6" cy="420.7" r="6.94"/>
<circle cx="454.0" cy="420.7" r="6.94"/>
<circle cx="454.6" cy="420.7" r="6.94"/>
<circle cx="456.9" cy="420.7" r="6.94"/>
<circle cx="457.5" cy="420.7" r="6.94"/>
<circle cx="459.8" cy="416.0" r="6.94"/>
<circle cx="460.8" cy="416.0" r="6.94"/>
<circle cx="461.8" cy="416.0" r="6.94"/>
<circle cx="463.0" cy="416.0" r="6.94"/>
<circle cx="464.6" cy="416.0" r="6.94"/>
<circle cx="466.6" cy="416.0" r="6.94"/>
<circle cx="468.2" cy="416.0" r="6.94"/>
<circle cx="468.8" cy="416.0" r="6.94"/>
<circle cx="470.1" cy="416.0" r="6.94"/>
<circle cx="472.2" cy="416.0" r="6.94"/>
<circle cx="473.2" cy="411.4" r="6.94"/>
<circle cx="473.7" cy="411.4" r="6.94"/>
<circle cx="474.1" cy="411.4" r="6.94"/>
<circle cx="474.8" cy="411.4" r="6.94"/>
<circle cx="475.0" cy="411.4" r="6.94"/>
<circle cx="475.7" cy="411.4" r="6.94"/>
<circle cx="476.3" cy="411.4" r="6.94"/>
<circle cx="477.0" cy="411.4" r="6.94"/>
<circle cx="477.4" cy="411.4" r="6.94"/>
<circle cx="478.0" cy="411.4" r="6.94"/>
<circle cx="478.3" cy="411.4" r="6.94"/>
<circle cx="478.7" cy="411.4" r="6.94"/>
<circle cx="479.2" cy="411.4" r="6.94"/>
<circle cx="480.1" cy="411.4" r="6.94"/>
<circle cx="481.3" cy="406.7" r="6.94"/>
<circle cx="482.3" cy="406.7" r="6.94"/>
<circle cx="483.5" cy="406.7" r="6.94"/>
<circle cx="485.9" cy="406.7" r="6.94"/>
<circle cx="487.9" cy="406.7" r="6.94"/>
<circle cx="489.1" cy="406.7" r="6.94"/>
<circle cx="490.5" cy="406.7" r="6.94"/>
<circle cx="492.8" cy="406.7" r="6.94"/>
<circle cx="494.9" cy="406.7" r="6.94"/>
<circle cx="495.4" cy="406.7" r="6.94"/>
<circle cx="496.7" cy="406.7" r="6.94"/>
<circle cx="498.6" cy="402.1" r="6.94"/>
<circle cx="499.6" cy="402.1" r="6.94"/>
<circle cx="500.8" cy="402.1" r="6.94"/>
<circle cx="501.2" cy="402.1" r="6.94"/>
<circle cx="502.7" cy="402.1" r="6.94"/>
<circle cx="503.6" cy="402.1" r="6.94"/>
<circle cx="504.2" cy="402.1" r="6.94"/>
<circle cx="504.9" cy="402.1" r="6.94"/>
<circle cx="506.5" cy="402.1" r="6.94"/>
<circle cx="506.8" cy="402.1" r="6.94"/>
<circle cx="508.2" cy="402.1" r="6.94"/>
<circle cx="508.5" cy="402.1" r="6.94"/>
<circle cx="509.4" cy="402.1" r="6.94"/>
<circle cx="510.7" cy="397.4" r="6.94"/>
<circle cx="511.1" cy="397.4" r="6.94"/>
<circle cx="512.3" cy="397.4" r="6.94"/>
<circle cx="512.7" cy="397.4" r="6.94"/>
<circle cx="513.1" cy="397.4" r="6.94"/>
<circle cx="513.9" cy="397.4" r="6.94"/>
<circle cx="514.7" cy="397.4" r="6.94"/>
<circle cx="515.6" cy="397.4" r="6.94"/>
<circle cx="516.5" cy="397.4" r="6.94"/>
<circle cx="516.7" cy="397.4" r="6.94"/>
<circle cx="517.6" cy="397.4" r="6.94"/>
<circle cx="518.1" cy="397.4" r="6.94"/>
<circle cx="519.4" cy="397.4" r="6.94"/>
<circle cx="519.5" cy="397.4" r="6.94"/>
<circle cx="520.2" cy="397.4" r="6.94"/>
<circle cx="520.9" cy="392.8" r="6.94"/>
<circle cx="521.5" cy="392.8" r="6.94"/>
<circle cx="522.1" cy="392.8" r="6.94"/>
<circle cx="522.5" cy="392.8" r="6.94"/>
<circle cx="522.9" cy="392.8" r="6.94"/>
<circle cx="523.4" cy="392.8" r="6.94"/>
<circle cx="523.8" cy="392.8" r="6.94"/>
<circle cx="524.0" cy="392.8" r="6.94"/>
<circle cx="524.4" cy="392.8" r="6.94"/>
<circle cx="525.1" cy="392.8" r="6.94"/>
<circle cx="525.5" cy="392.8" r="6.94"/>
<circle cx="525.6" cy="392.8" r="6.94"/>
<circle cx="526.3" cy="392.8" r="6.94"/>
<circle cx="526.6" cy="392.8" r="6.94"/>
<circle cx="527.0" cy="392.8" r="6.94"/>
<circle cx="527.4" cy="392.8" r="6.94"/>
<circle cx="527.8" cy="392.8" r="6.94"/>
<circle cx="528.2" cy="392.8" r="6.94"/>
<circle cx="528.7" cy="388.1" r="6.94"/>
<circle cx="529.2" cy="388.1" r="6.94"/>
<circle cx="530.0" cy="388.1" r="6.94"/>
<circle cx="530.1" cy="388.1" r="6.94"/>
<circle cx="530.9" cy="388.1" r="6.94"/>
<circle cx="531.1" cy="388.1" r="6.94"/>
<circle cx="531.6" cy="388.1" r="6.94"/>
<circle cx="532.3" cy="388.1" r="6.94"/>
<circle cx="532.8" cy="388.1" r="6.94"/>
<circle cx="533.1" cy="388.1" r="6.94"/>
<circle cx="533.3" cy="388.1" r="6.94"/>
<circle cx="534.0" cy="388.1" r="6.94"/>
<circle cx="534.4" cy="388.1" r="6.94"/>
<circle cx="535.2" cy="388.1" r="6.94"/>
<circle cx="535.3" cy="388.1" r="6.94"/>
<circle cx="535.9" cy="388.1" r="6.94"/>
<circle cx="536.6" cy="388.1" r="6.94"/>
<circle cx="536.6" cy="388.1" r="6.94"/>
<circle cx="537.3" cy="388.1" r="6.94"/>
<circle cx="538.0" cy="388.1" r="6.94"/>
<circle cx="538.4" cy="383.5" r="6.94"/>
<circle cx="538.6" cy="383.5" r="6.94"/>
<circle cx="539.1" cy="383.5" r="6.94"/>
<circle cx="539.6" cy="383.5" r="6.94"/>
<circle cx="540.5" cy="383.5" r="6.94"/>
<circle cx="540.6" cy="383.5" r="6.94"/>
<circle cx="541.3" cy="383.5" r="6.94"/>
<circle cx="541.9" cy="383.5" r="6.94"/>
<circle cx="542.1" cy="383.5" r="6.94"/>
<circle cx="542.6" cy="383.5" r="6.94"/>
<circle cx="543.4" cy="383.5" r="6.94"/>
<circle cx="543.7" cy="383.5" r="6.94"/>
<circle cx="544.0" cy="383.5" r="6.94"/>
<circle cx="544.7" cy="383.5" r="6.94"/>
<circle cx="545.0" cy="383.5" r="6.94"/>
<circle cx="545.5" cy="383.5" r="6.94"/>
<circle cx="545.9" cy="383.5" r="6.94"/>
<circle cx="546.7" cy="383.5" r="6.94"/>
<circle cx="547.3" cy="383.5" r="6.94"/>
<circle cx="547.6" cy="383.5" r="6.94"/>
<circle cx="548.2" cy="378.9" r="6.94"/>
<circle cx="548.2" cy="378.9" r="6.94"/>
<circle cx="548.7" cy="378.9" r="6.94"/>
<circle cx="549.1" cy="378.9" r="6.94"/>
<circle cx="549.7" cy="378.9" r="6.94"/>
<circle cx="550.1" cy="378.9" r="6.94"/>
<circle cx="550.2" cy="378.9" r="6.94"/>
<circle cx="550.5" cy="378.9" r="6.94"/>
<circle cx="551.0" cy="378.9" r="6.94"/>
<circle cx="551.4" cy="378.9" r="6.94"/>
<circle cx="551.9" cy="378.9" r="6.94"/>
<circle cx="552.0" cy="378.9" r="6.94"/>
<circle cx="552.6" cy="378.9" r="6.94"/>
<circle cx="553.0" cy="378.9" r="6.94"/>
<circle cx="553.4" cy="378.9" r="6.94"/>
<circle cx="553.7" cy="378.9" r="6.94"/>
<circle cx="554.0" cy="378.9" r="6.94"/>
<circle cx="554.3" cy="378.9" r="6.94"/>
<circle cx="554.7" cy="378.9" r="6.94"/>
<circle cx="555.1" cy="378.9" r="6.94"/>
<circle cx="555.5" cy="374.2" r="6.94"/>
<circle cx="555.6" cy="374.2" r="6.94"/>
<circle cx="555.9" cy="374.2" r="6.94"/>
<circle cx="556.3" cy="374.2" r="6.94"/>
<circle cx="556.5" cy="374.2" r="6.94"/>
<circle cx="556.7" cy="374.2" r="6.94"/>
<circle cx="556.9" cy="374.2" r="6.94"/>
<circle cx="557.3" cy="374.2" r="6.94"/>
<circle cx="557.5" cy="374.2" r="6.94"/>
<circle cx="558.0" cy="374.2" r="6.94"/>
<circle cx="558.2" cy="374.2" r="6.94"/>
<circle cx="558.5" cy="374.2" r="6.94"/>
<circle cx="558.6" cy="374.2" r="6.94"/>
<circle cx="558.8" cy="374.2" r="6.94"/>
<circle cx="559.1" cy="374.2" r="6.94"/>
<circle cx="559.4" cy="374.2" r="6.94"/>
<circle cx="559.8" cy="374.2" r="6.94"/>
<circle cx="560.0" cy="374.2" r="6.94"/>
<circle cx="560.2" cy="374.2" r="6.94"/>
<circle cx="560.5" cy="374.2" r="6.94"/>
<circle cx="560.8" cy="369.6" r="6.94"/>
<circle cx="561.1" cy="369.6" r="6.94"/>
<circle cx="561.3" cy="369.6" r="6.94"/>
<circle cx="561.6" cy="369.6" r="6.94"/>
<circle cx="561.8" cy="369.6" r="6.94"/>
<circle cx="561.9" cy="369.6" r="6.94"/>
<circle cx="562.4" cy="369.6" r="6.94"/>
<circle cx="562.5" cy="369.6" r="6.94"/>
<circle cx="562.8" cy="369.6" r="6.94"/>
<circle cx="563.0" cy="369.6" r="6.94"/>
<circle cx="563.4" cy="369.6" r="6.94"/>
<circle cx="563.5" cy="369.6" r="6.94"/>
<circle cx="563.7" cy="369.6" r="6.94"/>
<circle cx="564.0" cy="369.6" r="6.94"/>
<circle cx="564.2" cy="369.6" r="6.94"/>
<circle cx="564.7" cy="369.6" r="6.94"/>
<circle cx="564.8" cy="369.6" r="6.94"/>
<circle cx="565.0" cy="369.6" r="6.94"/>
<circle cx="565.3" cy="369.6" r="6.94"/>
<circle cx="565.7" cy="369.6" r="6.94"/>
<circle cx="565.8" cy="369.6" r="6.94"/>
<circle cx="566.0" cy="369.6" r="6.94"/>
<circle cx="566.4" cy="364.9" r="6.94"/>
<circle cx="566.6" cy="364.9" r="6.94"/>
<circle cx="566.9" cy="364.9" r="6.94"/>
<circle cx="567.0" cy="364.9" r="6.94"/>
<circle cx="567.3" cy="364.9" r="6.94"/>
<circle cx="567.7" cy="364.9" r="6.94"/>
<circle cx="567.9" cy="364.9" r="6.94"/>
<circle cx="568.2" cy="364.9" r="6.94"/>
<circle cx="568.2" cy="364.9" r="6.94"/>
<circle cx="568.5" cy="364.9" r="6.94"/>
<circle cx="568.7" cy="364.9" r="6.94"/>
<circle cx="569.0" cy="364.9" r="6.94"/>
<circle cx="569.5" cy="364.9" r="6.94"/>
<circle cx="569.6" cy="364.9" r="6.94"/>
<circle cx="570.0" cy="364.9" r="6.94"/>
<circle cx="570.1" cy="364.9" r="6.94"/>
<circle cx="570.4" cy="364.9" r="6.94"/>
<circle cx="570.6" cy="364.9" r="6.94"/>
<circle cx="570.8" cy="364.9" r="6.94"/>
<circle cx="571.2" cy="364.9" r="6.94"/>
<circle cx="571.5" cy="364.9" r="6.94"/>
<circle cx="571.5" cy="364.9" r="6.94"/>
<circle cx="571.9" cy="360.3" r="6.94"/>
<circle cx="572.2" cy="360.3" r="6.94"/>
<circle cx="572.4" cy="360.3" r="6.94"/>
<circle cx="572.7" cy="360.3" r="6.94"/>
<circle cx="573.0" cy="360.3" r="6.94"/>
<circle cx="573.3" cy="360.3" r="6.94"/>
<circle cx="573.6" cy="360.3" r="6.94"/>
<circle cx="574.0" cy="360.3" r="6.94"/>
<circle cx="574.3" cy="360.3" r="6.94"/>
<circle cx="574.5" cy="360.3" r="6.94"/>
<circle cx="574.7" cy="360.3" r="6.94"/>
<circle cx="575.1" cy="360.3" r="6.94"/>
<circle cx="575.5" cy="360.3" r="6.94"/>
<circle cx="575.7" cy="360.3" r="6.94"/>
<circle cx="576.0" cy="360.3" r="6.94"/>
<circle cx="576.3" cy="360.3" r="6.94"/>
<circle cx="576.7" cy="360.3" r="6.94"/>
<circle cx="577.0" cy="360.3" r="6.94"/>
<circle cx="577.1" cy="360.3" r="6.94"/>
<circle cx="577.4" cy="360.3" r="6.94"/>
<circle cx="577.8" cy="360.3" r="6.94"/>
<circle cx="578.2" cy="360.3" r="6.94"/>
<circle cx="578.5" cy="355.6" r="6.94"/>
<circle cx="578.6" cy="355.6" r="6.94"/>
<circle cx="579.0" cy="355.6" r="6.94"/>
<circle cx="579.4" cy="355.6" r="6.94"/>
<circle cx="579.7" cy="355.6" r="6.94"/>
<circle cx="579.9" cy="355.6" r="6.94"/>
<circle cx="580.2" cy="355.6" r="6.94"/>
<circle cx="580.7" cy="355.6" r="6.94"/>
<circle cx="580.8" cy="355.6" r="6.94"/>
<circle cx="581.2" cy="355.6" r="6.94"/>
<circle cx="581.5" cy="355.6" r="6.94"/>
<circle cx="581.8" cy="355.6" r="6.94"/>
<circle cx="582.2" cy="355.6" r="6.94"/>
<circle cx="582.6" cy="355.6" r="6.94"/>
<circle cx="582.7" cy="355.6" r="6.94"/>
<circle cx="582.9" cy="355.6" r="6.94"/>
<circle cx="583.4" cy="355.6" r="6.94"/>
<circle cx="583.5" cy="355.6" r="6.94"/>
<circle cx="583.8" cy="355.6" r="6.94"/>
<circle cx="584.4" cy="355.6" r="6.94"/>
<circle cx="584.5" cy="355.6" r="6.94"/>
<circle cx="585.0" cy="355.6" r="6.94"/>
<circle cx="585.2" cy="351.0" r="6.94"/>
<circle cx="585.8" cy="351.0" r="6.94"/>
<circle cx="586.0" cy="351.0" r="6.94"/>
<circle cx="586.3" cy="351.0" r="6.94"/>
<circle cx="586.6" cy="351.0" r="6.94"/>
<circle cx="587.3" cy="351.0" r="6.94"/>
<circle cx="587.7" cy="351.0" r="6.94"/>
<circle cx="588.2" cy="351.0" r="6.94"/>
<circle cx="588.3" cy="351.0" r="6.94"/>
<circle cx="588.9" cy="351.0" r="6.94"/>
<circle cx="589.2" cy="351.0" r="6.94"/>
<circle cx="589.7" cy="351.0" r="6.94"/>
<circle cx="589.9" cy="351.0" r="6.94"/>
<circle cx="590.4" cy="351.0" r="6.94"/>
<circle cx="590.9" cy="351.0" r="6.94"/>
<circle cx="591.4" cy="351.0" r="6.94"/>
<circle cx="591.5" cy="351.0" r="6.94"/>
<circle cx="592.1" cy="351.0" r="6.94"/>
<circle cx="592.6" cy="351.0" r="6.94"/>
<circle cx="593.1" cy="351.0" r="6.94"/>
<circle cx="593.2" cy="351.0" r="6.94"/>
<circle cx="593.5" cy="351.0" r="6.94"/>
<circle cx="594.3" cy="346.3" r="6.94"/>
<circle cx="594.7" cy="346.3" r="6.94"/>
<circle cx="594.9" cy="346.3" r="6.94"/>
<circle cx="595.2" cy="346.3" r="6.94"/>
<circle cx="595.9" cy="346.3" r="6.94"/>
<circle cx="596.1" cy="346.3" r="6.94"/>
<circle cx="596.7" cy="346.3" r="6.94"/>
<circle cx="597.0" cy="346.3" r="6.94"/>
<circle cx="597.5" cy="346.3" r="6.94"/>
<circle cx="597.6" cy="346.3" r="6.94"/>
<circle cx="598.3" cy="346.3" r="6.94"/>
<circle cx="598.5" cy="346.3" r="6.94"/>
<circle cx="598.9" cy="346.3" r="6.94"/>
<circle cx="599.5" cy="346.3" r="6.94"/>
<circle cx="599.9" cy="346.3" r="6.94"/>
<circle cx="600.1" cy="346.3" r="6.94"/>
<circle cx="600.5" cy="346.3" r="6.94"/>
<circle cx="601.0" cy="346.3" r="6.94"/>
<circle cx="601.4" cy="346.3" r="6.94"/>
<circle cx="601.8" cy="346.3" r="6.94"/>
<circle cx="602.1" cy="346.3" r="6.94"/>
<circle cx="602.5" cy="346.3" r="6.94"/>
<circle cx="603.0" cy="341.7" r="6.94"/>
<circle cx="603.3" cy="341.7" r="6.94"/>
<circle cx="603.4" cy="341.7" r="6.94"/>
<circle cx="603.8" cy="341.7" r="6.94"/>
<circle cx="604.1" cy="341.7" r="6.94"/>
<circle cx="604.1" cy="341.7" r="6.94"/>
<circle cx="604.6" cy="341.7" r="6.94"/>
<circle cx="604.7" cy="341.7" r="6.94"/>
<circle cx="605.1" cy="341.7" r="6.94"/>
<circle cx="605.3" cy="341.7" r="6.94"/>
<circle cx="605.6" cy="341.7" r="6.94"/>
<circle cx="605.8" cy="341.7" r="6.94"/>
<circle cx="606.1" cy="341.7" r="6.94"/>
<circle cx="606.4" cy="341.7" r="6.94"/>
<circle cx="606.6" cy="341.7" r="6.94"/>
<circle cx="606.9" cy="341.7" r="6.94"/>
<circle cx="607.1" cy="341.7" r="6.94"/>
<circle cx="607.3" cy="341.7" r="6.94"/>
<circle cx="607.5" cy="341.7" r="6.94"/>
<circle cx="607.9" cy="341.7" r="6.94"/>
<circle cx="608.1" cy="341.7" r="6.94"/>
<circle cx="608.3" cy="341.7" r="6.94"/>
<circle cx="608.7" cy="337.0" r="6.94"/>
<circle cx="609.0" cy="337.0" r="6.94"/>
<circle cx="609.2" cy="337.0" r="6.94"/>
<circle cx="609.4" cy="337.0" r="6.94"/>
<circle cx="609.7" cy="337.0" r="6.94"/>
<circle cx="609.9" cy="337.0" r="6.94"/>
<circle cx="610.1" cy="337.0" r="6.94"/>
<circle cx="610.5" cy="337.0" r="6.94"/>
<circle cx="610.6" cy="337.0" r="6.94"/>
<circle cx="611.0" cy="337.0" r="6.94"/>
<circle cx="611.3" cy="337.0" r="6.94"/>
<circle cx="611.4" cy="337.0" r="6.94"/>
<circle cx="611.8" cy="337.0" r="6.94"/>
<circle cx="611.9" cy="337.0" r="6.94"/>
<circle cx="612.4" cy="337.0" r="6.94"/>
<circle cx="612.6" cy="337.0" r="6.94"/>
<circle cx="612.8" cy="337.0" r="6.94"/>
<circle cx="613.0" cy="337.0" r="6.94"/>
<circle cx="613.4" cy="337.0" r="6.94"/>
<circle cx="613.6" cy="337.0" r="6.94"/>
<circle cx="614.0" cy="337.0" r="6.94"/>
<circle cx="614.0" cy="337.0" r="6.94"/>
<circle cx="614.5" cy="332.4" r="6.94"/>
<circle cx="614.8" cy="332.4" r="6.94"/>
<circle cx="615.0" cy="332.4" r="6.94"/>
<circle cx="615.3" cy="332.4" r="6.94"/>
<circle cx="615.4" cy="332.4" r="6.94"/>
<circle cx="615.9" cy="332.4" r="6.94"/>
<circle cx="616.1" cy="332.4" r="6.94"/>
<circle cx="616.5" cy="332.4" r="6.94"/>
<circle cx="616.8" cy="332.4" r="6.94"/>
<circle cx="616.8" cy="332.4" r="6.94"/>
<circle cx="617.3" cy="332.4" r="6.94"/>
<circle cx="617.6" cy="332.4" r="6.94"/>
<circle cx="617.6" cy="332.4" r="6.94"/>
<circle cx="618.0" cy="332.4" r="6.94"/>
<circle cx="618.4" cy="332.4" r="6.94"/>
<circle cx="618.5" cy="332.4" r="6.94"/>
<circle cx="619.0" cy="332.4" r="6.94"/>
<circle cx="619.1" cy="332.4" r="6.94"/>
<circle cx="619.5" cy="332.4" r="6.94"/>
<circle cx="619.6" cy="332.4" r="6.94"/>
<circle cx="620.0" cy="332.4" r="6.94"/>
<circle cx="620.4" cy="332.4" r="6.94"/>
<circle cx="620.4" cy="327.7" r="6.94"/>
<circle cx="620.7" cy="327.7" r="6.94"/>
<circle cx="621.1" cy="327.7" r="6.94"/>
<circle cx="621.3" cy="327.7" r="6.94"/>
<circle cx="621.5" cy="327.7" r="6.94"/>
<circle cx="621.8" cy="327.7" r="6.94"/>
<circle cx="622.1" cy="327.7" r="6.94"/>
<circle cx="622.6" cy="327.7" r="6.94"/>
<circle cx="622.8" cy="327.7" r="6.94"/>
<circle cx="623.1" cy="327.7" r="6.94"/>
<circle cx="623.2" cy="327.7" r="6.94"/>
<circle cx="623.6" cy="327.7" r="6.94"/>
<circle cx="623.7" cy="327.7" r="6.94"/>
<circle cx="624.1" cy="327.7" r="6.94"/>
<circle cx="624.4" cy="327.7" r="6.94"/>
<circle cx="624.6" cy="327.7" r="6.94"/>
<circle cx="625.0" cy="327.7" r="6.94"/>
<circle cx="625.2" cy="327.7" r="6.94"/>
<circle cx="625.5" cy="327.7" r="6.94"/>
<circle cx="625.9" cy="327.7" r="6.94"/>
<circle cx="625.9" cy="327.7" r="6.94"/>
<circle cx="626.5" cy="327.7" r="6.94"/>
<circle cx="626.6" cy="323.1" r="6.94"/>
<circle cx="626.8" cy="323.1" r="6.94"/>
<circle cx="627.2" cy="323.1" r="6.94"/>
<circle cx="627.3" cy="323.1" r="6.94"/>
<circle cx="627.8" cy="323.1" r="6.94"/>
<circle cx="628.0" cy="323.1" r="6.94"/>
<circle cx="628.2" cy="323.1" r="6.94"/>
<circle cx="628.6" cy="323.1" r="6.94"/>
<circle cx="628.7" cy="323.1" r="6.94"/>
<circle cx="628.9" cy="323.1" r="6.94"/>
<circle cx="629.4" cy="323.1" r="6.94"/>
<circle cx="629.4" cy="323.1" r="6.94"/>
<circle cx="629.9" cy="323.1" r="6.94"/>
<circle cx="630.0" cy="323.1" r="6.94"/>
<circle cx="630.4" cy="323.1" r="6.94"/>
<circle cx="630.8" cy="323.1" r="6.94"/>
<circle cx="630.9" cy="323.1" r="6.94"/>
<circle cx="631.2" cy="323.1" r="6.94"/>
<circle cx="631.4" cy="323.1" r="6.94"/>
<circle cx="631.6" cy="323.1" r="6.94"/>
<circle cx="631.9" cy="323.1" r="6.94"/>
<circle cx="632.2" cy="323.1" r="6.94"/>
<circle cx="632.6" cy="318.4" r="6.94"/>
<circle cx="632.8" cy="318.4" r="6.94"/>
<circle cx="633.2" cy="318.4" r="6.94"/>
<circle cx="633.6" cy="318.4" r="6.94"/>
<circle cx="633.7" cy="318.4" r="6.94"/>
<circle cx="634.0" cy="318.4" r="6.94"/>
<circle cx="634.5" cy="318.4" r="6.94"/>
<circle cx="634.6" cy="318.4" r="6.94"/>
<circle cx="634.9" cy="318.4" r="6.94"/>
<circle cx="635.3" cy="318.4" r="6.94"/>
<circle cx="635.5" cy="318.4" r="6.94"/>
<circle cx="635.9" cy="318.4" r="6.94"/>
<circle cx="636.2" cy="318.4" r="6.94"/>
<circle cx="636.6" cy="318.4" r="6.94"/>
<circle cx="636.9" cy="318.4" r="6.94"/>
<circle cx="637.1" cy="318.4" r="6.94"/>
<circle cx="637.5" cy="318.4" r="6.94"/>
<circle cx="637.8" cy="318.4" r="6.94"/>
<circle cx="638.0" cy="318.4" r="6.94"/>
<circle cx="638.5" cy="318.4" r="6.94"/>
<circle cx="638.6" cy="318.4" r="6.94"/>
<circle cx="638.9" cy="318.4" r="6.94"/>
<circle cx="639.2" cy="313.8" r="6.94"/>
<circle cx="639.9" cy="313.8" r="6.94"/>
<circle cx="640.3" cy="313.8" r="6.94"/>
<circle cx="640.7" cy="313.8" r="6.94"/>
<circle cx="641.0" cy="313.8" r="6.94"/>
<circle cx="641.3" cy="313.8" r="6.94"/>
<circle cx="641.6" cy="313.8" r="6.94"/>
<circle cx="642.3" cy="313.8" r="6.94"/>
<circle cx="642.6" cy="313.8" r="6.94"/>
<circle cx="643.0" cy="313.8" r="6.94"/>
<circle cx="643.5" cy="313.8" r="6.94"/>
<circle cx="643.8" cy="313.8" r="6.94"/>
<circle cx="644.4" cy="313.8" r="6.94"/>
<circle cx="644.7" cy="313.8" r="6.94"/>
<circle cx="644.9" cy="313.8" r="6.94"/>
<circle cx="645.6" cy="313.8" r="6.94"/>
<circle cx="645.7" cy="313.8" r="6.94"/>
<circle cx="646.3" cy="313.8" r="6.94"/>
<circle cx="646.6" cy="313.8" r="6.94"/>
<circle cx="646.9" cy="313.8" r="6.94"/>
<circle cx="647.3" cy="313.8" r="6.94"/>
<circle cx="648.0" cy="313.8" r="6.94"/>
<circle cx="175.0" cy="722.7" r="6.94"/>
<circle cx="176.0" cy="722.7" r="6.94"/>
<circle cx="176.8" cy="722.7" r="6.94"/>
<circle cx="177.0" cy="722.7" r="6.94"/>
<circle cx="177.6" cy="722.7" r="6.94"/>
<circle cx="178.5" cy="722.7" r="6.94"/>
<circle cx="179.1" cy="722.7" r="6.94"/>
<circle cx="179.8" cy="722.7" r="6.94"/>
<circle cx="180.5" cy="722.7" r="6.94"/>
<circle cx="180.7" cy="722.7" r="6.94"/>
<circle cx="181.4" cy="722.7" r="6.94"/>
<circle cx="182.1" cy="722.7" r="6.94"/>
<circle cx="182.5" cy="718.1" r="6.94"/>
<circle cx="183.2" cy="718.1" r="6.94"/>
<circle cx="183.6" cy="718.1" r="6.94"/>
<circle cx="183.9" cy="718.1" r="6.94"/>
<circle cx="184.1" cy="718.1" r="6.94"/>
<circle cx="184.8" cy="718.1" r="6.94"/>
<circle cx="185.1" cy="718.1" r="6.94"/>
<circle cx="185.4" cy="718.1" r="6.94"/>
<circle cx="185.9" cy="718.1" r="6.94"/>
<circle cx="186.7" cy="713.4" r="6.94"/>
<circle cx="187.0" cy="713.4" r="6.94"/>
<circle cx="187.4" cy="713.4" r="6.94"/>
<circle cx="187.9" cy="713.4" r="6.94"/>
<circle cx="188.2" cy="713.4" r="6.94"/>
<circle cx="188.8" cy="713.4" r="6.94"/>
<circle cx="189.4" cy="713.4" r="6.94"/>
<circle cx="190.4" cy="708.8" r="6.94"/>
<circle cx="191.1" cy="708.8" r="6.94"/>
<circle cx="191.6" cy="708.8" r="6.94"/>
<circle cx="191.9" cy="708.8" r="6.94"/>
<circle cx="192.7" cy="708.8" r="6.94"/>
<circle cx="193.2" cy="708.8" r="6.94"/>
<circle cx="649.7" cy="309.1" r="6.94"/>
<circle cx="650.0" cy="309.1" r="6.94"/>
<circle cx="650.2" cy="309.1" r="6.94"/>
<circle cx="650.6" cy="309.1" r="6.94"/>
<circle cx="651.0" cy="309.1" r="6.94"/>
<circle cx="651.1" cy="309.1" r="6.94"/>
<circle cx="651.6" cy="309.1" r="6.94"/>
<circle cx="651.7" cy="309.1" r="6.94"/>
<circle cx="652.1" cy="309.1" r="6.94"/>
<circle cx="652.4" cy="309.1" r="6.94"/>
<circle cx="652.8" cy="309.1" r="6.94"/>
<circle cx="653.2" cy="309.1" r="6.94"/>
<circle cx="653.5" cy="309.1" r="6.94"/>
<circle cx="653.7" cy="309.1" r="6.94"/>
<circle cx="654.1" cy="309.1" r="6.94"/>
<circle cx="654.3" cy="309.1" r="6.94"/>
<circle cx="654.6" cy="309.1" r="6.94"/>
<circle cx="655.1" cy="309.1" r="6.94"/>
<circle cx="655.3" cy="309.1" r="6.94"/>
<circle cx="655.6" cy="309.1" r="6.94"/>
<circle cx="655.9" cy="309.1" r="6.94"/>
<circle cx="656.3" cy="309.1" r="6.94"/>
<circle cx="656.5" cy="309.1" r="6.94"/>
<circle cx="656.9" cy="309.1" r="6.94"/>
<circle cx="657.2" cy="309.1" r="6.94"/>
<circle cx="657.6" cy="309.1" r="6.94"/>
<circle cx="657.7" cy="309.1" r="6.94"/>
<circle cx="658.1" cy="309.1" r="6.94"/>
<circle cx="658.4" cy="309.1" r="6.94"/>
<circle cx="658.6" cy="309.1" r="6.94"/>
<circle cx="658.9" cy="309.1" r="6.94"/>
<circle cx="659.4" cy="309.1" r="6.94"/>
<circle cx="659.5" cy="309.1" r="6.94"/>
<circle cx="660.1" cy="309.1" r="6.94"/>
<circle cx="660.1" cy="309.1" r="6.94"/>
<circle cx="660.4" cy="309.1" r="6.94"/>
<circle cx="660.7" cy="309.1" r="6.94"/>
<circle cx="661.3" cy="309.1" r="6.94"/>
<circle cx="661.4" cy="309.1" r="6.94"/>
<circle cx="661.7" cy="309.1" r="6.94"/>
<circle cx="662.0" cy="309.1" r="6.94"/>
<circle cx="662.3" cy="309.1" r="6.94"/>
<circle cx="662.8" cy="309.1" r="6.94"/>
<circle cx="663.1" cy="309.1" r="6.94"/>
<circle cx="663.4" cy="309.1" r="6.94"/>
<circle cx="663.7" cy="309.1" r="6.94"/>
<circle cx="663.9" cy="309.1" r="6.94"/>
<circle cx="664.3" cy="309.1" r="6.94"/>
<circle cx="664.6" cy="309.1" r="6.94"/>
<circle cx="665.0" cy="309.1" r="6.94"/>
<circle cx="665.3" cy="309.1" r="6.94"/>
<circle cx="665.7" cy="309.1" r="6.94"/>
<circle cx="665.7" cy="309.1" r="6.94"/>
<circle cx="666.3" cy="309.1" r="6.94"/>
<circle cx="666.6" cy="309.1" r="6.94"/>
<circle cx="666.9" cy="309.1" r="6.94"/>
<circle cx="667.0" cy="309.1" r="6.94"/>
<circle cx="667.3" cy="309.1" r="6.94"/>
<circle cx="667.6" cy="309.1" r="6.94"/>
<circle cx="667.9" cy="309.1" r="6.94"/>
<circle cx="668.5" cy="309.1" r="6.94"/>
<circle cx="668.8" cy="309.1" r="6.94"/>
<circle cx="669.0" cy="309.1" r="6.94"/>
<circle cx="669.4" cy="309.1" r="6.94"/>
<circle cx="669.6" cy="309.1" r="6.94"/>
<circle cx="669.8" cy="309.1" r="6.94"/>
<circle cx="670.1" cy="309.1" r="6.94"/>
<circle cx="670.4" cy="309.1" r="6.94"/>
<circle cx="670.9" cy="309.1" r="6.94"/>
<circle cx="671.1" cy="309.1" r="6.94"/>
<circle cx="671.4" cy="309.1" r="6.94"/>
<circle cx="671.8" cy="309.1" r="6.94"/>
<circle cx="671.9" cy="309.1" r="6.94"/>
<circle cx="672.3" cy="309.1" r="6.94"/>
<circle cx="672.6" cy="309.1" r="6.94"/>
<circle cx="673.1" cy="309.1" r="6.94"/>
<circle cx="673.3" cy="309.1" r="6.94"/>
<circle cx="673.6" cy="309.1" r="6.94"/>
<circle cx="674.1" cy="309.1" r="6.94"/>
<circle cx="674.3" cy="309.1" r="6.94"/>
<circle cx="674.7" cy="309.1" r="6.94"/>
<circle cx="674.9" cy="309.1" r="6.94"/>
<circle cx="675.1" cy="309.1" r="6.94"/>
<circle cx="675.5" cy="309.1" r="6.94"/>
<circle cx="675.8" cy="309.1" r="6.94"/>
<circle cx="676.2" cy="309.1" r="6.94"/>
<circle cx="676.4" cy="309.1" r="6.94"/>
<circle cx="676.8" cy="309.1" r="6.94"/>
<circle cx="677.1" cy="309.1" r="6.94"/>
<circle cx="677.3" cy="309.1" r="6.94"/>
<circle cx="677.8" cy="309.1" r="6.94"/>
<circle cx="677.9" cy="309.1" r="6.94"/>
<circle cx="678.4" cy="309.1" r="6.94"/>
<circle cx="678.5" cy="309.1" r="6.94"/>
<circle cx="678.8" cy="309.1" r="6.94"/>
<circle cx="679.2" cy="309.1" r="6.94"/>
<circle cx="679.6" cy="309.1" r="6.94"/>
<circle cx="680.0" cy="309.1" r="6.94"/>
<circle cx="680.0" cy="309.1" r="6.94"/>
<circle cx="680.5" cy="309.1" r="6.94"/>
<circle cx="680.8" cy="309.1" r="6.94"/>
<circle cx="681.2" cy="309.1" r="6.94"/>
<circle cx="681.3" cy="309.1" r="6.94"/>
<circle cx="681.7" cy="309.1" r="6.94"/>
<circle cx="682.0" cy="309.1" r="6.94"/>
<circle cx="682.5" cy="309.1" r="6.94"/>
<circle cx="682.6" cy="309.1" r="6.94"/>
<circle cx="683.1" cy="309.1" r="6.94"/>
<circle cx="683.2" cy="309.1" r="6.94"/>
<circle cx="683.5" cy="309.1" r="6.94"/>
<circle cx="684.0" cy="309.1" r="6.94"/>
<circle cx="684.2" cy="309.1" r="6.94"/>
<circle cx="684.4" cy="309.1" r="6.94"/>
<circle cx="684.9" cy="309.1" r="6.94"/>
<circle cx="685.0" cy="309.1" r="6.94"/>
<circle cx="685.6" cy="309.1" r="6.94"/>
<circle cx="685.9" cy="309.1" r="6.94"/>
<circle cx="686.2" cy="309.1" r="6.94"/>
<circle cx="686.5" cy="309.1" r="6.94"/>
<circle cx="686.7" cy="309.1" r="6.94"/>
<circle cx="687.0" cy="309.1" r="6.94"/>
<circle cx="687.3" cy="309.1" r="6.94"/>
<circle cx="687.8" cy="309.1" r="6.94"/>
<circle cx="687.8" cy="309.1" r="6.94"/>
<circle cx="688.4" cy="309.1" r="6.94"/>
<circle cx="688.5" cy="309.1" r="6.94"/>
<circle cx="688.8" cy="309.1" r="6.94"/>
<circle cx="689.1" cy="309.1" r="6.94"/>
<circle cx="689.7" cy="309.1" r="6.94"/>
<circle cx="689.8" cy="309.1" r="6.94"/>
<circle cx="692.1" cy="304.5" r="6.94"/>
<circle cx="692.4" cy="304.5" r="6.94"/>
<circle cx="692.4" cy="304.5" r="6.94"/>
<circle cx="692.7" cy="304.5" r="6.94"/>
<circle cx="692.9" cy="304.5" r="6.94"/>
<circle cx="693.2" cy="304.5" r="6.94"/>
<circle cx="693.4" cy="304.5" r="6.94"/>
<circle cx="693.5" cy="304.5" r="6.94"/>
<circle cx="693.7" cy="304.5" r="6.94"/>
<circle cx="693.9" cy="304.5" r="6.94"/>
<circle cx="694.0" cy="304.5" r="6.94"/>
<circle cx="694.4" cy="304.5" r="6.94"/>
<circle cx="694.5" cy="304.5" r="6.94"/>
<circle cx="694.7" cy="304.5" r="6.94"/>
<circle cx="694.8" cy="304.5" r="6.94"/>
<circle cx="695.1" cy="304.5" r="6.94"/>
<circle cx="695.4" cy="304.5" r="6.94"/>
<circle cx="695.5" cy="304.5" r="6.94"/>
<circle cx="695.6" cy="304.5" r="6.94"/>
<circle cx="695.9" cy="304.5" r="6.94"/>
<circle cx="696.2" cy="304.5" r="6.94"/>
<circle cx="696.2" cy="304.5" r="6.94"/>
<circle cx="696.4" cy="304.5" r="6.94"/>
<circle cx="696.7" cy="304.5" r="6.94"/>
<circle cx="696.9" cy="304.5" r="6.94"/>
<circle cx="697.2" cy="304.5" r="6.94"/>
<circle cx="697.2" cy="304.5" r="6.94"/>
<circle cx="697.4" cy="304.5" r="6.94"/>
<circle cx="697.6" cy="304.5" r="6.94"/>
<circle cx="697.9" cy="304.5" r="6.94"/>
<circle cx="698.1" cy="304.5" r="6.94"/>
<circle cx="698.2" cy="304.5" r="6.94"/>
<circle cx="698.5" cy="304.5" r="6.94"/>
<circle cx="698.6" cy="304.5" r="6.94"/>
<circle cx="699.0" cy="304.5" r="6.94"/>
<circle cx="699.1" cy="304.5" r="6.94"/>
<circle cx="699.2" cy="304.5" r="6.94"/>
<circle cx="699.6" cy="304.5" r="6.94"/>
<circle cx="699.6" cy="304.5" r="6.94"/>
<circle cx="699.9" cy="304.5" r="6.94"/>
<circle cx="700.2" cy="304.5" r="6.94"/>
<circle cx="700.4" cy="304.5" r="6.94"/>
<circle cx="700.5" cy="304.5" r="6.94"/>
<circle cx="700.7" cy="304.5" r="6.94"/>
<circle cx="700.8" cy="304.5" r="6.94"/>
<circle cx="701.1" cy="304.5" r="6.94"/>
<circle cx="701.2" cy="304.5" r="6.94"/>
<circle cx="701.4" cy="304.5" r="6.94"/>
<circle cx="701.7" cy="304.5" r="6.94"/>
<circle cx="701.8" cy="304.5" r="6.94"/>
<circle cx="702.1" cy="304.5" r="6.94"/>
<circle cx="702.4" cy="304.5" r="6.94"/>
<circle cx="702.5" cy="304.5" r="6.94"/>
<circle cx="702.7" cy="304.5" r="6.94"/>
<circle cx="702.9" cy="304.5" r="6.94"/>
<circle cx="703.1" cy="304.5" r="6.94"/>
<circle cx="703.2" cy="304.5" r="6.94"/>
<circle cx="703.5" cy="304.5" r="6.94"/>
<circle cx="703.7" cy="304.5" r="6.94"/>
<circle cx="703.9" cy="304.5" r="6.94"/>
<circle cx="704.2" cy="304.5" r="6.94"/>
<circle cx="704.3" cy="304.5" r="6.94"/>
<circle cx="704.5" cy="304.5" r="6.94"/>
<circle cx="704.7" cy="304.5" r="6.94"/>
<circle cx="704.9" cy="304.5" r="6.94"/>
<circle cx="705.0" cy="304.5" r="6.94"/>
<circle cx="705.3" cy="304.5" r="6.94"/>
<circle cx="705.6" cy="304.5" r="6.94"/>
<circle cx="705.8" cy="304.5" r="6.94"/>
<circle cx="705.9" cy="304.5" r="6.94"/>
<circle cx="706.2" cy="304.5" r="6.94"/>
<circle cx="706.3" cy="304.5" r="6.94"/>
<circle cx="706.5" cy="304.5" r="6.94"/>
<circle cx="706.7" cy="304.5" r="6.94"/>
<circle cx="706.9" cy="304.5" r="6.94"/>
<circle cx="707.1" cy="304.5" r="6.94"/>
<circle cx="707.2" cy="304.5" r="6.94"/>
<circle cx="707.5" cy="304.5" r="6.94"/>
<circle cx="707.8" cy="304.5" r="6.94"/>
<circle cx="707.9" cy="304.5" r="6.94"/>
<circle cx="708.1" cy="304.5" r="6.94"/>
<circle cx="708.3" cy="304.5" r="6.94"/>
<circle cx="708.5" cy="304.5" r="6.94"/>
<circle cx="708.7" cy="304.5" r="6.94"/>
<circle cx="708.9" cy="304.5" r="6.94"/>
<circle cx="713.6" cy="299.9" r="6.94"/>
<circle cx="713.8" cy="299.9" r="6.94"/>
<circle cx="714.1" cy="299.9" r="6.94"/>
<circle cx="714.1" cy="299.9" r="6.94"/>
<circle cx="714.4" cy="299.9" r="6.94"/>
<circle cx="714.6" cy="299.9" r="6.94"/>
<circle cx="714.7" cy="299.9" r="6.94"/>
<circle cx="714.9" cy="299.9" r="6.94"/>
<circle cx="715.2" cy="299.9" r="6.94"/>
<circle cx="715.2" cy="299.9" r="6.94"/>
<circle cx="715.5" cy="299.9" r="6.94"/>
<circle cx="715.6" cy="299.9" r="6.94"/>
<circle cx="715.9" cy="299.9" r="6.94"/>
<circle cx="716.2" cy="299.9" r="6.94"/>
<circle cx="716.3" cy="299.9" r="6.94"/>
<circle cx="716.4" cy="299.9" r="6.94"/>
<circle cx="716.7" cy="299.9" r="6.94"/>
<circle cx="716.9" cy="299.9" r="6.94"/>
<circle cx="717.1" cy="299.9" r="6.94"/>
<circle cx="717.2" cy="299.9" r="6.94"/>
<circle cx="717.5" cy="299.9" r="6.94"/>
<circle cx="717.7" cy="299.9" r="6.94"/>
<circle cx="717.8" cy="299.9" r="6.94"/>
<circle cx="718.0" cy="299.9" r="6.94"/>
<circle cx="718.3" cy="299.9" r="6.94"/>
<circle cx="718.3" cy="299.9" r="6.94"/>
<circle cx="718.6" cy="299.9" r="6.94"/>
<circle cx="718.8" cy="299.9" r="6.94"/>
<circle cx="719.0" cy="299.9" r="6.94"/>
<circle cx="719.1" cy="299.9" r="6.94"/>
<circle cx="719.4" cy="299.9" r="6.94"/>
<circle cx="719.5" cy="299.9" r="6.94"/>
<circle cx="719.6" cy="299.9" r="6.94"/>
<circle cx="719.9" cy="299.9" r="6.94"/>
<circle cx="720.1" cy="299.9" r="6.94"/>
<circle cx="720.2" cy="299.9" r="6.94"/>
<circle cx="720.5" cy="299.9" r="6.94"/>
<circle cx="720.7" cy="299.9" r="6.94"/>
<circle cx="720.9" cy="299.9" r="6.94"/>
<circle cx="721.0" cy="299.9" r="6.94"/>
<circle cx="721.2" cy="299.9" r="6.94"/>
<circle cx="721.4" cy="299.9" r="6.94"/>
<circle cx="721.7" cy="299.9" r="6.94"/>
<circle cx="721.9" cy="299.9" r="6.94"/>
<circle cx="722.0" cy="299.9" r="6.94"/>
<circle cx="722.2" cy="299.9" r="6.94"/>
<circle cx="722.5" cy="299.9" r="6.94"/>
<circle cx="722.6" cy="299.9" r="6.94"/>
<circle cx="722.7" cy="299.9" r="6.94"/>
<circle cx="722.9" cy="299.9" r="6.94"/>
<circle cx="723.2" cy="299.9" r="6.94"/>
<circle cx="723.4" cy="299.9" r="6.94"/>
<circle cx="723.6" cy="299.9" r="6.94"/>
<circle cx="723.7" cy="299.9" r="6.94"/>
<circle cx="724.0" cy="299.9" r="6.94"/>
<circle cx="724.1" cy="299.9" r="6.94"/>
<circle cx="724.4" cy="299.9" r="6.94"/>
<circle cx="724.5" cy="299.9" r="6.94"/>
<circle cx="724.7" cy="299.9" r="6.94"/>
<circle cx="725.0" cy="299.9" r="6.94"/>
<circle cx="729.1" cy="295.2" r="6.94"/>
<circle cx="729.2" cy="295.2" r="6.94"/>
<circle cx="729.4" cy="295.2" r="6.94"/>
<circle cx="729.6" cy="295.2" r="6.94"/>
<circle cx="729.7" cy="295.2" r="6.94"/>
<circle cx="730.0" cy="295.2" r="6.94"/>
<circle cx="730.1" cy="295.2" r="6.94"/>
<circle cx="730.3" cy="295.2" r="6.94"/>
<circle cx="730.4" cy="295.2" r="6.94"/>
<circle cx="730.6" cy="295.2" r="6.94"/>
<circle cx="730.7" cy="295.2" r="6.94"/>
<circle cx="730.9" cy="295.2" r="6.94"/>
<circle cx="731.0" cy="295.2" r="6.94"/>
<circle cx="731.2" cy="295.2" r="6.94"/>
<circle cx="731.5" cy="295.2" r="6.94"/>
<circle cx="731.5" cy="295.2" r="6.94"/>
<circle cx="731.7" cy="295.2" r="6.94"/>
<circle cx="731.9" cy="295.2" r="6.94"/>
<circle cx="732.1" cy="295.2" r="6.94"/>
<circle cx="732.2" cy="295.2" r="6.94"/>
<circle cx="732.4" cy="295.2" r="6.94"/>
<circle cx="732.6" cy="295.2" r="6.94"/>
<circle cx="732.7" cy="295.2" r="6.94"/>
<circle cx="733.0" cy="295.2" r="6.94"/>
<circle cx="733.1" cy="295.2" r="6.94"/>
<circle cx="733.2" cy="295.2" r="6.94"/>
<circle cx="733.5" cy="295.2" r="6.94"/>
<circle cx="733.7" cy="295.2" r="6.94"/>
<circle cx="733.8" cy="295.2" r="6.94"/>
<circle cx="733.9" cy="295.2" r="6.94"/>
<circle cx="734.1" cy="295.2" r="6.94"/>
<circle cx="734.3" cy="295.2" r="6.94"/>
<circle cx="734.3" cy="295.2" r="6.94"/>
<circle cx="734.5" cy="295.2" r="6.94"/>
<circle cx="734.8" cy="295.2" r="6.94"/>
<circle cx="734.9" cy="295.2" r="6.94"/>
<circle cx="738.2" cy="295.2" r="6.94"/>
<circle cx="738.8" cy="295.2" r="6.94"/>
<circle cx="739.5" cy="295.2" r="6.94"/>
<circle cx="740.3" cy="295.2" r="6.94"/>
<circle cx="741.4" cy="295.2" r="6.94"/>
<circle cx="741.9" cy="295.2" r="6.94"/>
<circle cx="742.4" cy="295.2" r="6.94"/>
<circle cx="743.7" cy="295.2" r="6.94"/>
<circle cx="744.3" cy="295.2" r="6.94"/>
<circle cx="744.6" cy="295.2" r="6.94"/>
<circle cx="745.9" cy="295.2" r="6.94"/>
<circle cx="746.4" cy="295.2" r="6.94"/>
<circle cx="747.2" cy="295.2" r="6.94"/>
<circle cx="747.9" cy="295.2" r="6.94"/>
<circle cx="748.8" cy="295.2" r="6.94"/>
<circle cx="749.4" cy="295.2" r="6.94"/>
<circle cx="750.2" cy="295.2" r="6.94"/>
<circle cx="750.4" cy="295.2" r="6.94"/>
<circle cx="744.3" cy="290.6" r="6.94"/>
<circle cx="744.6" cy="290.6" r="6.94"/>
<circle cx="745.0" cy="290.6" r="6.94"/>
<circle cx="745.3" cy="290.6" r="6.94"/>
<circle cx="745.8" cy="290.6" r="6.94"/>
<circle cx="746.0" cy="290.6" r="6.94"/>
<circle cx="746.3" cy="290.6" r="6.94"/>
<circle cx="746.6" cy="290.6" r="6.94"/>
<circle cx="747.0" cy="290.6" r="6.94"/>
<circle cx="747.5" cy="290.6" r="6.94"/>
<circle cx="747.7" cy="290.6" r="6.94"/>
<circle cx="748.2" cy="290.6" r="6.94"/>
<circle cx="748.4" cy="290.6" r="6.94"/>
<circle cx="748.9" cy="290.6" r="6.94"/>
<circle cx="749.3" cy="290.6" r="6.94"/>
<circle cx="749.7" cy="290.6" r="6.94"/>
<circle cx="750.1" cy="290.6" r="6.94"/>
<circle cx="750.2" cy="290.6" r="6.94"/>
<circle cx="750.9" cy="290.6" r="6.94"/>
<circle cx="751.1" cy="290.6" r="6.94"/>
<circle cx="751.5" cy="290.6" r="6.94"/>
<circle cx="751.9" cy="290.6" r="6.94"/>
<circle cx="753.2" cy="285.9" r="6.94"/>
<circle cx="753.3" cy="285.9" r="6.94"/>
<circle cx="753.6" cy="285.9" r="6.94"/>
<circle cx="754.0" cy="285.9" r="6.94"/>
<circle cx="754.0" cy="285.9" r="6.94"/>
<circle cx="754.4" cy="285.9" r="6.94"/>
<circle cx="754.7" cy="285.9" r="6.94"/>
<circle cx="754.8" cy="285.9" r="6.94"/>
<circle cx="755.2" cy="285.9" r="6.94"/>
<circle cx="755.4" cy="285.9" r="6.94"/>
<circle cx="755.7" cy="285.9" r="6.94"/>
<circle cx="755.8" cy="285.9" r="6.94"/>
<circle cx="756.2" cy="285.9" r="6.94"/>
<circle cx="756.4" cy="285.9" r="6.94"/>
<circle cx="756.6" cy="285.9" r="6.94"/>
<circle cx="757.0" cy="285.9" r="6.94"/>
<circle cx="757.0" cy="285.9" r="6.94"/>
<circle cx="757.4" cy="285.9" r="6.94"/>
<circle cx="757.7" cy="285.9" r="6.94"/>
<circle cx="757.8" cy="285.9" r="6.94"/>
<circle cx="758.2" cy="285.9" r="6.94"/>
<circle cx="758.3" cy="285.9" r="6.94"/>
<circle cx="758.6" cy="285.9" r="6.94"/>
<circle cx="758.9" cy="285.9" r="6.94"/>
<circle cx="759.2" cy="281.3" r="6.94"/>
<circle cx="759.3" cy="281.3" r="6.94"/>
<circle cx="759.6" cy="281.3" r="6.94"/>
<circle cx="759.9" cy="281.3" r="6.94"/>
<circle cx="760.1" cy="281.3" r="6.94"/>
<circle cx="760.5" cy="281.3" r="6.94"/>
<circle cx="760.6" cy="281.3" r="6.94"/>
<circle cx="761.0" cy="281.3" r="6.94"/>
<circle cx="761.1" cy="281.3" r="6.94"/>
<circle cx="761.4" cy="281.3" r="6.94"/>
<circle cx="761.6" cy="281.3" r="6.94"/>
<circle cx="761.9" cy="281.3" r="6.94"/>
<circle cx="762.2" cy="281.3" r="6.94"/>
<circle cx="762.4" cy="281.3" r="6.94"/>
<circle cx="762.7" cy="281.3" r="6.94"/>
<circle cx="762.8" cy="281.3" r="6.94"/>
<circle cx="763.1" cy="281.3" r="6.94"/>
<circle cx="763.3" cy="281.3" r="6.94"/>
<circle cx="763.6" cy="281.3" r="6.94"/>
<circle cx="763.9" cy="281.3" r="6.94"/>
<circle cx="764.2" cy="281.3" r="6.94"/>
<circle cx="764.3" cy="281.3" r="6.94"/>
<circle cx="764.7" cy="281.3" r="6.94"/>
<circle cx="765.0" cy="281.3" r="6.94"/>
<circle cx="766.3" cy="276.6" r="6.94"/>
<circle cx="766.6" cy="276.6" r="6.94"/>
<circle cx="767.3" cy="276.6" r="6.94"/>
<circle cx="767.7" cy="276.6" r="6.94"/>
<circle cx="768.3" cy="276.6" r="6.94"/>
<circle cx="769.3" cy="276.6" r="6.94"/>
<circle cx="769.7" cy="276.6" r="6.94"/>
<circle cx="770.3" cy="276.6" r="6.94"/>
<circle cx="770.9" cy="276.6" r="6.94"/>
<circle cx="777.2" cy="276.6" r="6.94"/>
<circle cx="778.1" cy="276.6" r="6.94"/>
<circle cx="779.5" cy="276.6" r="6.94"/>
<circle cx="791.2" cy="276.6" r="6.94"/>
<circle cx="798.9" cy="272.0" r="6.94"/>
<circle cx="799.6" cy="272.0" r="6.94"/>
<circle cx="808.1" cy="267.3" r="6.94"/>
</g>
<g clip-path="url(#ax)" fill="none" stroke-width="4.17">
<line x1="116.45" y1="710.67" x2="808.8" y2="206.2" stroke="#f00" stroke-opacity="0.33"/>
<line x1="34.00" y1="912.15" x2="870.40" y2="80.68" stroke="#00f" stroke-opacity="0.33"/>
</g>
<rect x="67.5" y="110.5" width="775.0" height="770.0" fill="none" stroke="#000" stroke-width="1.11"/>
<g stroke="#000" stroke-width="1.11">
<line x1="94.5" y1="880.5" x2="94.5" y2="885.9"/>
<line x1="67.5" y1="852.5" x2="62.1" y2="852.5"/>
<line x1="188.5" y1="880.5" x2="188.5" y2="885.9"/>
<line x1="67.5" y1="759.5" x2="62.1" y2="759.5"/>
<line x1="281.5" y1="880.5" x2="281.5" y2="885.9"/>
<line x1="67.5" y1="666.5" x2="62.1" y2="666.5"/>
<line x1="375.5" y1="880.5" x2="375.5" y2="885.9"/>
<line x1="67.5" y1="574.5" x2="62.1" y2="574.5"/>
<line x1="468.5" y1="880.5" x2="468.5" y2="885.9"/>
<line x1="67.5" y1="481.5" x2="62.1" y2="481.5"/>
<line x1="562.5" y1="880.5" x2="562.5" y2="885.9"/>
<line x1="67.5" y1="388.5" x2="62.1" y2="388.5"/>
<line x1="655.5" y1="880.5" x2="655.5" y2="885.9"/>
<line x1="67.5" y1="295.5" x2="62.1" y2="295.5"/>
<line x1="749.5" y1="880.5" x2="749.5" y2="885.9"/>
<line x1="67.5" y1="202.5" x2="62.1" y2="202.5"/>
</g>
<g font-size="13.89px">
<text x="94.50" y="901" text-anchor="middle">200</text>
<text x="57.8" y="858" text-anchor="end">200</text>
<text x="188.50" y="901" text-anchor="middle">220</text>
<text x="57.8" y="765" text-anchor="end">220</text>
<text x="281.50" y="901" text-anchor="middle">240</text>
<text x="57.8" y="672" text-anchor="end">240</text>
<text x="375.50" y="901" text-anchor="middle">260</text>
<text x="57.8" y="579" text-anchor="end">260</text>
<text x="468.50" y="901" text-anchor="middle">280</text>
<text x="57.8" y="486" text-anchor="end">280</text>
<text x="549.25" y="901" letter-spacing="-0.75px">300</text>
<text x="31.3" y="393" letter-spacing="-0.75px">300</text>
<text x="642.25" y="901" letter-spacing="-0.75px">320</text>
<text x="31.3" y="301" letter-spacing="-0.75px">320</text>
<text x="736.25" y="901" letter-spacing="-0.75px">340</text>
<text x="31.3" y="208" letter-spacing="-0.75px">340</text>
</g>
<text x="453.6" y="921" font-size="16.67px" text-anchor="middle">Simulated</text>
<text transform="translate(22.3,496.3) rotate(-90)" font-size="16.67px" text-anchor="middle">Observed</text>
<text x="441.5" y="25" font-size="19.44px" text-anchor="middle">Q-Q plot at vi.landsvirkjun.5932 for downward_longwave_flux</text>
<text x="441.1" y="48" font-size="19.44px" text-anchor="middle">from rav2-14-15 during summer</text>
</svg></body></html>
